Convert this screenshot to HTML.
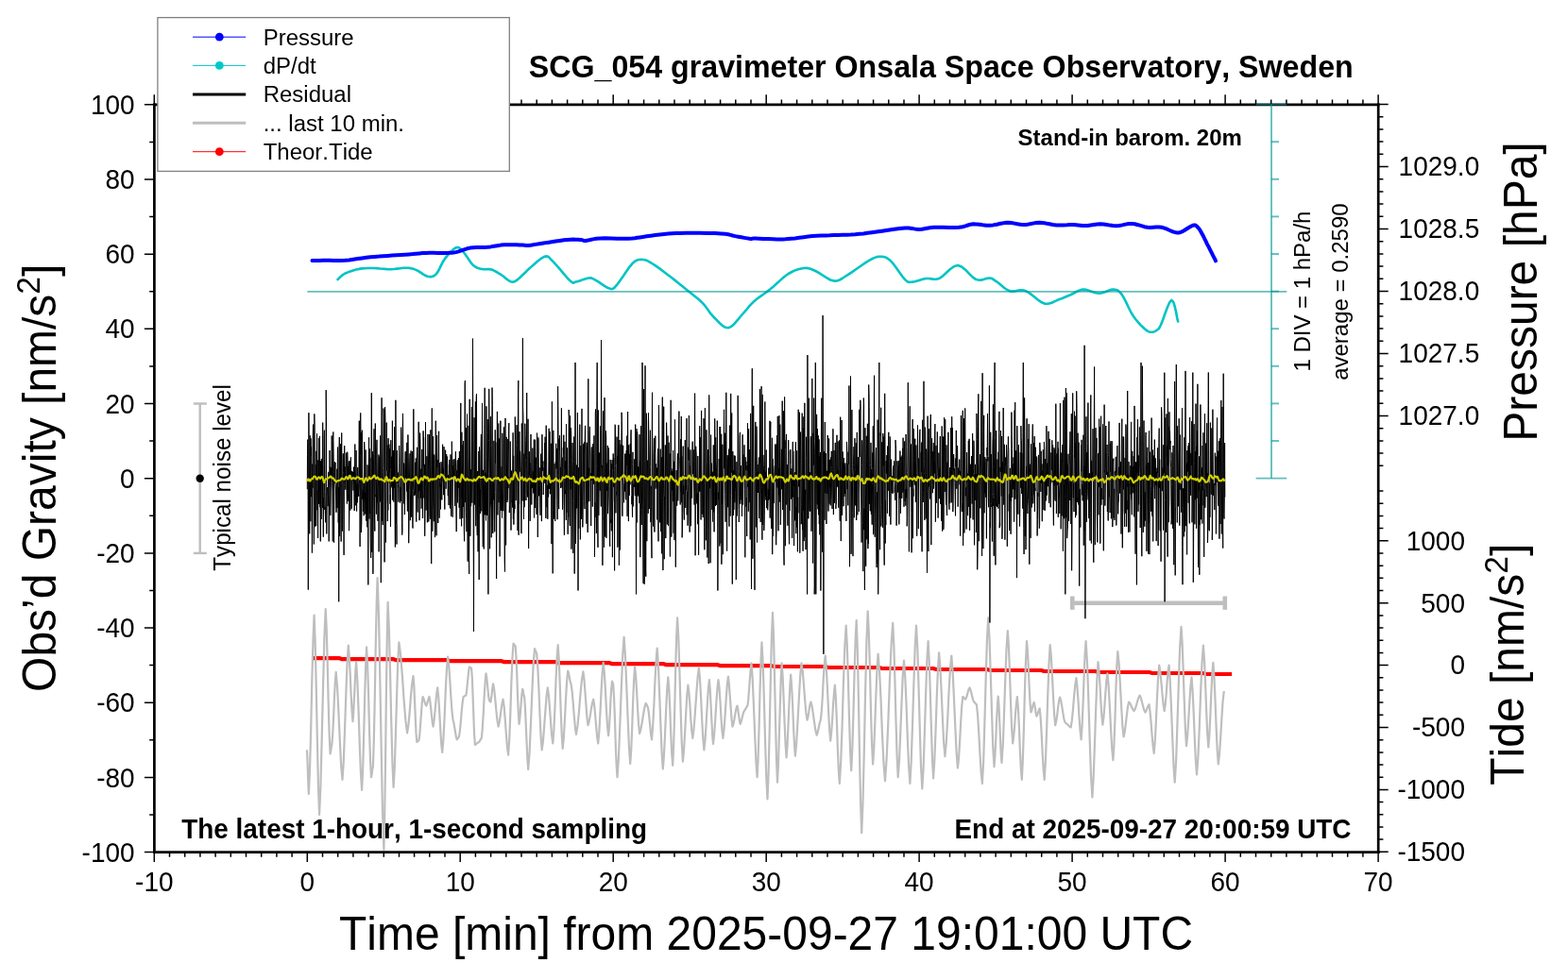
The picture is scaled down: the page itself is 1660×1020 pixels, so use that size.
<!DOCTYPE html><html><head><meta charset="utf-8"><title>SCG_054 gravimeter Onsala Space Observatory</title>
<style>html,body{margin:0;padding:0;background:#fff;}svg{display:block;}text{font-family:"Liberation Sans",Arial,Helvetica,sans-serif;font-kerning:none;}</style></head><body>
<svg width="1660" height="1020" viewBox="0 0 1660 1020">
<rect width="1660" height="1020" fill="#fff"/>
<text transform="translate(192.3,887.8) scale(1,1.035)" font-size="27.9" font-weight="bold">The latest 1-hour, 1-second sampling</text>
<text transform="translate(1010.5,887.8) scale(1,1.035)" font-size="27.9" font-weight="bold">End at 2025-09-27 20:00:59 UTC</text>
<g stroke="#bebebe" fill="none">
<line x1="1135.3" y1="638.8" x2="1296.8" y2="638.8" stroke-width="4.6"/>
<line x1="1135.3" y1="631.5" x2="1135.3" y2="645.8" stroke-width="4.6"/>
<line x1="1296.8" y1="631.5" x2="1296.8" y2="645.8" stroke-width="4.6"/>
</g>
<g stroke="#bebebe" stroke-width="2.4" fill="none"><line x1="211.7" y1="427.5" x2="211.7" y2="585.9"/><line x1="204.8" y1="427.5" x2="218.8" y2="427.5"/><line x1="204.8" y1="585.9" x2="218.8" y2="585.9"/></g>
<circle cx="211.7" cy="506.7" r="4.2" fill="#000"/>
<polyline points="331.8,697.1 358.9,697.1 361.9,698.1 416.1,698.1 419.1,699.1 473.3,699.1 476.3,700.1 530.5,700.1 533.5,701.1 587.7,701.1 590.7,702.1 644.9,702.1 647.9,703.1 702.1,703.1 705.1,704.1 759.3,704.1 762.3,705.1 816.5,705.1 819.5,706 873.6,706 876.6,707 930.8,707 933.8,708 988,708 991,709 1045.2,709 1048.2,710 1102.4,710 1105.4,711 1159.6,711 1162.6,712 1216.8,712 1219.8,713 1274,713 1277,714 1304.1,714" fill="none" stroke="#ff0000" stroke-width="4.2"/>
<polyline points="324.9,794.3 325.3,800.7 325.7,811.4 326.1,823.8 326.5,834.5 326.9,840.9 328,814.9 329.2,771.4 330.3,721.1 331.5,677.6 332.6,651.6 333.7,680.6 334.8,729.2 335.9,785.3 337,833.9 338.1,862.9 339.4,833 340.7,782.9 342.1,725.2 343.4,675.1 344.7,645.2 345.7,666.2 346.7,701.5 347.6,742.1 348.6,777.4 349.6,798.4 349.9,797.1 350.3,794.9 350.6,792.3 351,790.1 351.3,788.8 352.2,778.2 353.1,760.6 353.9,740.1 354.8,722.5 355.7,711.9 357.1,727.5 358.4,753.7 359.8,784 361.1,810.2 362.5,825.8 363.8,806.3 365,773.6 366.3,735.9 367.5,703.2 368.8,683.7 369.7,694.7 370.7,713.2 371.6,734.6 372.6,753.1 373.5,764.1 374.2,755.4 374.9,740.9 375.7,724.2 376.4,709.7 377.1,701 378.3,719.6 379.5,750.9 380.7,786.9 381.9,818.2 383.1,836.8 384.1,816 385.1,781.2 386.1,740.9 387.1,706.1 388.1,685.3 389.1,704.2 390.1,735.9 391,772.5 392,804.2 393,823.1 393.4,821.6 393.8,819.1 394.1,816.1 394.5,813.6 394.9,812.1 395.8,784.6 396.8,738.6 397.7,685.5 398.7,639.5 399.6,612 401,651.5 402.3,717.8 403.7,794.2 405,860.5 406.4,900 407.2,864 408.1,803.7 408.9,734.1 409.8,673.8 410.6,637.8 411.8,664.7 413,709.9 414.2,761.9 415.4,807.1 416.6,834 417.8,812.9 418.9,777.6 420.1,736.8 421.2,701.5 422.4,680.4 424.1,693.6 425.9,715.7 427.6,741.1 429.4,763.2 431.1,776.4 432.4,768.1 433.7,754.2 434.9,738.2 436.2,724.3 437.5,716 438.3,725.6 439,741.7 439.8,760.3 440.5,776.4 441.3,786 441.7,785.7 442.2,785.3 442.6,784.8 443.1,784.4 443.5,784.1 444.3,777.8 445.1,767.2 446,754.9 446.8,744.3 447.6,738 448.3,739.3 449,741.5 449.8,744.1 450.5,746.3 451.2,747.6 451.9,746.3 452.5,744.1 453.2,741.5 453.8,739.3 454.5,738 455.3,742.3 456.1,749.6 457,758 457.8,765.3 458.6,769.6 459.5,763.9 460.4,754.5 461.4,743.5 462.3,734.1 463.2,728.4 464.2,737.8 465.2,753.6 466.2,771.8 467.2,787.6 468.2,797 469.4,783.1 470.6,759.7 471.7,732.8 472.9,709.4 474.1,695.5 475.2,704.7 476.3,720.2 477.4,738 478.5,753.5 479.6,762.7 480.4,765.5 481.2,770.3 482.1,775.7 482.9,780.5 483.7,783.3 484.1,782.9 484.6,782.3 485,781.5 485.5,780.9 485.9,780.5 486.8,774.7 487.8,764.9 488.7,753.6 489.7,743.8 490.6,738 491.1,737.8 491.7,737.5 492.2,737.1 492.8,736.8 493.3,736.6 494,732.5 494.7,725.5 495.5,717.5 496.2,710.5 496.9,706.4 497.3,706.6 497.8,706.9 498.2,707.3 498.7,707.6 499.1,707.8 499.9,718.9 500.6,737.6 501.4,759 502.1,777.7 502.9,788.8 503.7,788.4 504.5,787.8 505.4,787 506.2,786.4 507,786 507.6,785.4 508.1,784.5 508.7,783.4 509.2,782.5 509.8,781.9 510.7,772.5 511.7,756.7 512.6,738.5 513.6,722.7 514.5,713.3 515.2,717.3 515.9,723.9 516.6,731.5 517.3,738.1 518,742.1 518.3,742.3 518.6,742.6 518.8,743 519.1,743.3 519.4,743.5 519.9,740.9 520.5,736.4 521,731.4 521.6,726.9 522.1,724.3 523.2,730.5 524.3,740.9 525.4,753 526.5,763.4 527.6,769.6 528.6,765.6 529.6,759 530.6,751.3 531.6,744.7 532.6,740.7 533.7,748.8 534.8,762.4 535.9,778 537,791.6 538.1,799.7 539.2,783.5 540.3,756.4 541.3,725 542.4,697.9 543.5,681.7 543.9,682.1 544.4,682.7 544.8,683.5 545.3,684.1 545.7,684.5 546.5,695.8 547.3,714.7 548,736.6 548.8,755.5 549.6,766.8 550.3,761.7 551,753.2 551.8,743.4 552.5,734.9 553.2,729.8 553.6,730.9 554,732.8 554.3,735 554.7,736.9 555.1,738 555.9,748.5 556.7,766.2 557.6,786.6 558.4,804.3 559.2,814.8 560.6,797.3 561.9,767.9 563.3,734.1 564.6,704.7 566,687.2 566.4,687.8 566.9,688.9 567.3,690.2 567.8,691.3 568.2,691.9 569.3,706 570.4,729.5 571.5,756.7 572.6,780.2 573.7,794.3 574.9,785.3 576.1,770.1 577.4,752.6 578.6,737.4 579.8,728.4 580.9,736.5 582,750.1 583.1,765.7 584.2,779.3 585.3,787.4 586.4,773.1 587.5,749.1 588.5,721.4 589.6,697.4 590.7,683.1 591.7,698.2 592.7,723.4 593.7,752.6 594.7,777.8 595.7,792.9 596.8,781.6 597.9,762.7 599,740.8 600.1,721.9 601.2,710.6 601.9,712.5 602.5,715.6 603.2,719.3 603.8,722.4 604.5,724.3 605.6,731.6 606.7,744 607.8,758.1 608.9,770.5 610,777.8 611.5,768.7 613,753.4 614.4,735.8 615.9,720.5 617.4,711.4 618.4,719.2 619.4,732.3 620.5,747.3 621.5,760.4 622.5,768.2 623.6,764.4 624.8,758.1 625.9,750.8 627.1,744.5 628.2,740.7 629.2,747.1 630.2,757.9 631.2,770.2 632.2,781 633.2,787.4 634.3,775.6 635.4,756 636.5,733.2 637.6,713.6 638.7,701.8 639.8,712.4 640.9,730.2 641.9,750.8 643,768.6 644.1,779.2 644.9,771.3 645.7,758 646.4,742.7 647.2,729.4 648,721.5 648.2,721.8 648.4,722.4 648.7,723.1 648.9,723.7 649.1,724 650,737.6 650.9,760.4 651.7,786.7 652.6,809.5 653.5,823.1 654.9,802.8 656.3,768.7 657.8,729.3 659.2,695.2 660.6,674.9 661.9,693.3 663.2,724.1 664.6,759.6 665.9,790.4 667.2,808.8 668.2,794.7 669.2,771.2 670.1,744 671.1,720.5 672.1,706.4 673.1,716.1 674.1,732.3 675.1,751.1 676.1,767.3 677.1,777 678.4,772.6 679.7,765.2 681.1,756.7 682.4,749.3 683.7,744.9 684.1,745.5 684.6,746.4 685,747.5 685.5,748.4 685.9,749 686.7,753.7 687.5,761.6 688.4,770.7 689.2,778.6 690,783.3 691.1,770 692.3,747.8 693.4,722.2 694.6,700 695.7,686.7 696.9,704.2 698.1,733.6 699.4,767.4 700.6,796.8 701.8,814.3 702.9,801 704,778.7 705.1,753 706.2,730.7 707.3,717.4 708.3,730.2 709.3,751.7 710.2,776.4 711.2,797.9 712.2,810.7 713.2,789.2 714.2,753.3 715.1,711.7 716.1,675.8 717.1,654.3 718.3,675.2 719.4,710.2 720.6,750.7 721.7,785.7 722.9,806.6 724,795.5 725.1,776.9 726.2,755.4 727.3,736.8 728.4,725.7 729.4,733.4 730.4,746.3 731.3,761.3 732.3,774.2 733.3,781.9 734.6,771.7 735.9,754.5 737.3,734.7 738.6,717.5 739.9,707.3 741,719.2 742.1,739.3 743.2,762.3 744.3,782.4 745.4,794.3 746.5,784.1 747.6,767.1 748.7,747.4 749.8,730.4 750.9,720.2 751.7,729.5 752.5,745.1 753.4,763.1 754.2,778.7 755,788 756.1,778.7 757.2,763.1 758.3,745.1 759.4,729.5 760.5,720.2 761.5,728.7 762.5,742.9 763.4,759.2 764.4,773.4 765.4,781.9 766.5,772.9 767.6,757.9 768.7,740.6 769.8,725.6 770.9,716.6 771.8,723.9 772.7,736.1 773.7,750.1 774.6,762.3 775.5,769.6 776.5,766.6 777.5,761.5 778.4,755.7 779.4,750.6 780.4,747.6 781.1,750.2 781.7,754.7 782.4,759.7 783,764.2 783.7,766.8 784.5,764.9 785.3,761.8 786.2,758.1 787,755 787.8,753.1 788.5,752.3 789.2,751.1 790,749.6 790.7,748.4 791.4,747.6 792.2,741.4 793,731 793.9,718.9 794.7,708.5 795.5,702.3 796.7,718.9 797.9,746.7 799.2,778.7 800.4,806.5 801.6,823.1 802.6,803.5 803.6,770.7 804.5,732.8 805.5,700 806.5,680.4 807.7,703.2 808.9,741.4 810.1,785.4 811.3,823.6 812.5,846.4 813.6,819.3 814.7,773.8 815.8,721.4 816.9,675.9 818,648.8 819,673.5 820,714.8 821,762.6 822,803.9 823,828.6 823.9,811.3 824.8,782.2 825.8,748.7 826.7,719.6 827.6,702.3 828.6,716.1 829.6,739.1 830.6,765.7 831.6,788.7 832.6,802.5 833.5,790.4 834.4,770.3 835.4,746.9 836.3,726.8 837.2,714.7 838.1,726.5 839.1,746.3 840,769 841,788.8 841.9,800.6 843.2,787.1 844.5,764.5 845.9,738.4 847.2,715.8 848.5,702.3 849.7,710.6 850.9,724.5 852.1,740.5 853.3,754.4 854.5,762.7 855.3,760.1 856.1,755.6 856.8,750.6 857.6,746.1 858.4,743.5 859.7,748.3 860.9,756.4 862.2,765.7 863.4,773.8 864.7,778.6 865.5,776.4 866.3,772.8 867.2,768.5 868,764.9 868.8,762.7 869.8,753.4 870.8,737.7 871.7,719.6 872.7,703.9 873.7,694.6 874.8,707 875.9,727.7 877,751.6 878.1,772.3 879.2,784.7 880.1,776.6 881.1,763 882,747.4 883,733.8 883.9,725.7 884.9,740 885.9,764 886.8,791.6 887.8,815.6 888.8,829.9 890.2,806.9 891.6,768.4 892.9,724 894.3,685.5 895.7,662.5 896.8,683.6 897.9,719 899,759.7 900.1,795.1 901.2,816.2 902.3,794.3 903.4,757.7 904.5,715.5 905.6,678.9 906.7,657 907.8,687.9 908.9,739.7 910,799.4 911.1,851.2 912.2,882.1 913.5,849.9 914.8,795.9 916.1,733.6 917.4,679.6 918.7,647.4 919.8,669.6 920.9,706.9 921.9,749.9 923,787.2 924.1,809.4 925.2,793.4 926.3,766.5 927.4,735.6 928.5,708.7 929.6,692.7 931.1,711.2 932.6,742.1 934,777.8 935.5,808.7 937,827.2 938.6,804.2 940.3,765.7 941.9,721.3 943.6,682.8 945.2,659.8 946.3,682.2 947.4,719.8 948.5,763.1 949.6,800.7 950.7,823.1 952,806.1 953.2,777.7 954.5,745 955.7,716.6 957,699.6 958.3,717.5 959.6,747.5 960.8,782 962.1,812 963.4,829.9 964.7,806.9 966,768.4 967.4,724 968.7,685.5 970,662.5 971.3,686.2 972.5,726 973.8,771.9 975,811.7 976.3,835.4 977.6,813.9 978.8,778 980.1,736.4 981.3,700.5 982.6,679 983.7,699 984.8,732.4 985.9,771 987,804.4 988.1,824.4 989.3,806.1 990.5,775.5 991.7,740.3 992.9,709.7 994.1,691.4 995.4,706.5 996.6,731.7 997.9,760.8 999.1,786 1000.4,801.1 1001.8,786.5 1003.2,762 1004.5,733.7 1005.9,709.2 1007.3,694.6 1008.6,710.9 1009.9,738.3 1011.3,769.8 1012.6,797.2 1013.9,813.5 1015,803.1 1016.1,785.8 1017.1,765.7 1018.2,748.4 1019.3,738 1019.9,738.4 1020.4,739 1021,739.7 1021.5,740.3 1022.1,740.7 1023,739 1023.9,736.2 1024.7,732.9 1025.6,730.1 1026.5,728.4 1027.4,730.5 1028.3,733.9 1029.3,738 1030.2,741.4 1031.1,743.5 1031.7,743.9 1032.2,744.5 1032.8,745.2 1033.3,745.8 1033.9,746.2 1035.1,757.7 1036.3,776.9 1037.5,799.2 1038.7,818.4 1039.9,829.9 1041.2,805.8 1042.4,765.4 1043.7,718.8 1044.9,678.4 1046.2,654.3 1047.5,676 1048.7,712.3 1050,754.1 1051.2,790.4 1052.5,812.1 1053.3,801.9 1054.2,784.7 1055,764.9 1055.9,747.7 1056.7,737.5 1057.5,747.2 1058.2,763.4 1059,782.1 1059.7,798.3 1060.5,808 1061.8,788.8 1063,756.6 1064.3,719.4 1065.5,687.2 1066.8,668 1067.9,684.4 1069,711.9 1070,743.5 1071.1,771 1072.2,787.4 1073.1,780.6 1074.1,769.3 1075,756.1 1076,744.8 1076.9,738 1077.9,750.1 1078.9,770.2 1079.8,793.6 1080.8,813.7 1081.8,825.8 1082.8,805.6 1083.9,771.9 1084.9,732.9 1086,699.2 1087,679 1087.9,689.4 1088.8,706.7 1089.6,726.8 1090.5,744.1 1091.4,754.5 1092.1,753.1 1092.7,750.6 1093.4,747.9 1094,745.4 1094.7,744 1095.2,746 1095.8,749.4 1096.3,753.2 1096.9,756.6 1097.4,758.6 1098.1,757.5 1098.7,755.6 1099.4,753.4 1100,751.5 1100.7,750.4 1101.7,760.8 1102.7,778.1 1103.7,798.1 1104.7,815.4 1105.7,825.8 1106.9,806.2 1108.1,773.4 1109.3,735.5 1110.5,702.7 1111.7,683.1 1112.8,694.8 1113.9,714.4 1115,736.9 1116.1,756.5 1117.2,768.2 1118.2,764.1 1119.2,757.3 1120.1,749.4 1121.1,742.6 1122.1,738.5 1123.2,742.2 1124.3,748.4 1125.4,755.5 1126.5,761.7 1127.6,765.4 1128.8,766.1 1130,767.2 1131.3,768.6 1132.5,769.7 1133.7,770.4 1134.8,763.2 1136,751.2 1137.1,737.4 1138.3,725.4 1139.4,718.2 1140.4,727.1 1141.5,742.1 1142.5,759.4 1143.6,774.4 1144.6,783.3 1145.6,769 1146.6,745 1147.6,717.3 1148.6,693.3 1149.6,679 1151,701.7 1152.3,739.8 1153.7,783.7 1155,821.8 1156.4,844.5 1157.6,824.8 1158.8,791.8 1160.1,753.7 1161.3,720.7 1162.5,701 1163.5,710.1 1164.5,725.5 1165.4,743.1 1166.4,758.5 1167.4,767.6 1168.4,760.1 1169.4,747.7 1170.4,733.2 1171.4,720.8 1172.4,713.3 1173.6,725.9 1174.8,747.1 1176,771.4 1177.2,792.6 1178.4,805.2 1179.4,789.4 1180.4,762.9 1181.3,732.3 1182.3,705.8 1183.3,690 1184.6,702.4 1185.8,723.2 1187.1,747.3 1188.3,768.1 1189.6,780.5 1190.7,775.4 1191.8,766.9 1192.9,757.1 1194,748.6 1195.1,743.5 1196.2,744.8 1197.3,747 1198.4,749.6 1199.5,751.8 1200.6,753.1 1201.8,750.8 1203,747 1204.2,742.7 1205.4,738.9 1206.6,736.6 1207.8,739.1 1208.9,743.2 1210.1,747.9 1211.2,752 1212.4,754.5 1213.2,753.4 1214,751.5 1214.9,749.2 1215.7,747.3 1216.5,746.2 1217.5,753.3 1218.6,765.2 1219.6,778.8 1220.7,790.7 1221.7,797.8 1222.8,785 1223.9,763.5 1225,738.8 1226.1,717.3 1227.2,704.5 1228.3,711.2 1229.4,722.4 1230.5,735.2 1231.6,746.4 1232.7,753.1 1233.7,746.4 1234.7,735.2 1235.6,722.4 1236.6,711.2 1237.6,704.5 1238.8,721.5 1240,750.1 1241.3,783 1242.5,811.6 1243.7,828.6 1245.1,806 1246.4,768.1 1247.8,724.4 1249.1,686.5 1250.5,663.9 1251.6,681.2 1252.7,710.3 1253.8,743.7 1254.9,772.8 1256,790.1 1257.1,780.1 1258.2,763.4 1259.3,744.1 1260.4,727.4 1261.5,717.4 1262.6,731.5 1263.7,755.2 1264.8,782.5 1265.9,806.2 1267,820.3 1268.4,801.5 1269.8,770.1 1271.1,733.9 1272.5,702.5 1273.9,683.7 1275,698.5 1276.1,723.3 1277.1,751.9 1278.2,776.7 1279.3,791.5 1280.3,779.2 1281.3,758.6 1282.3,734.7 1283.3,714.1 1284.3,701.8 1285.4,716.6 1286.5,741.3 1287.6,769.9 1288.7,794.6 1289.8,809.4 1291,798.8 1292.2,781 1293.4,760.4 1294.6,742.6 1295.8,732" fill="none" stroke="#bebebe" stroke-width="2.2" stroke-linejoin="round"/>
<polyline points="325.3,518.2 325.5,481.4 325.8,465.6 326.1,519.3 326.3,624.6 326.6,530.9 326.9,437.2 327.2,474.7 327.4,513.1 327.7,565.3 328,477.2 328.2,461.3 328.5,523.3 328.8,552.2 329,464.3 329.3,483 329.6,473.4 329.9,526.2 330.1,506.2 330.4,585.6 330.7,491.6 330.9,516.8 331.2,463.5 331.5,449.6 331.7,449.7 332,510.6 332.3,576.5 332.6,536.4 332.8,438.4 333.1,451 333.4,558.1 333.6,555.4 333.9,556.7 334.2,535 334.4,492.2 334.7,557.1 335,477.8 335.3,506.2 335.5,459.4 335.8,525.3 336.1,540.4 336.3,519.2 336.6,569.9 336.9,487.4 337.1,520.2 337.4,464.1 337.7,534 338,519 338.2,480.4 338.5,461.9 338.8,537.2 339,501.4 339.3,573.4 339.6,488.3 339.8,519.7 340.1,549.9 340.4,485.9 340.7,509 340.9,506.8 341.2,520.1 341.5,537.8 341.7,447.6 342,529.9 342.3,568.7 342.5,527.1 342.8,539.6 343.1,462.5 343.4,455.7 343.6,520.6 343.9,539.8 344.2,536.7 344.4,545.3 344.7,553.3 345,491.2 345.2,413.2 345.5,440.8 345.8,565.4 346.1,525.6 346.3,517.7 346.6,516.8 346.9,516 347.1,536.1 347.4,531.9 347.7,509.1 347.9,499.8 348.2,573.4 348.5,539.2 348.8,524.9 349,477.1 349.3,515.4 349.6,494.4 349.8,545.9 350.1,525.1 350.4,501.4 350.6,495.5 350.9,505.3 351.2,461.5 351.5,497 351.7,511.5 352,520.8 352.3,573.4 352.5,466.4 352.8,457.5 353.1,478.9 353.3,499.2 353.6,574.6 353.9,504.2 354.2,489 354.4,511.6 354.7,496 355,490.1 355.2,513 355.5,518.1 355.8,539.7 356,542.7 356.3,539.7 356.6,526.8 356.9,496.7 357.1,537.8 357.4,474.5 357.7,473.5 357.9,505.5 358.2,553.6 358.5,516.2 358.7,637.3 359,481.7 359.3,463 359.6,568 359.8,518.1 360.1,510.4 360.4,470 360.6,512.8 360.9,555.4 361.2,573.6 361.4,497 361.7,458.5 362,501.8 362.3,561.1 362.5,562.5 362.8,511.5 363.1,484.1 363.3,480.3 363.6,500.7 363.9,550.1 364.1,587.9 364.4,513.5 364.7,472.1 365,506.4 365.2,494.4 365.5,511.6 365.8,518.7 366,517.5 366.3,479.7 366.6,481.1 366.8,490.6 367.1,521.2 367.4,533.5 367.7,478.7 367.9,482.3 368.2,495.9 368.5,530.5 368.7,493.8 369,504.1 369.3,488.5 369.5,562.2 369.8,547.9 370.1,506.2 370.4,488.1 370.6,495.9 370.9,540.5 371.2,494.8 371.4,484.4 371.7,507.9 372,506 372.2,538.9 372.5,499.1 372.8,498.9 373.1,506.6 373.3,508.3 373.6,499.9 373.9,514.3 374.1,519.6 374.4,494.6 374.7,512.8 374.9,523.4 375.2,541 375.5,497.9 375.8,470.5 376,507 376.3,535.3 376.6,503.8 376.8,498.1 377.1,477.1 377.4,513.6 377.6,541.5 377.9,512.5 378.2,532.4 378.5,527.7 378.7,495 379,511.8 379.3,511.7 379.5,523 379.8,525.9 380.1,470.1 380.3,445.7 380.6,512.2 380.9,521.2 381.1,578.9 381.4,525.9 381.7,437.4 382,481.2 382.2,458.2 382.5,563.9 382.8,553.3 383,525.8 383.3,455.7 383.6,491.4 383.8,528.7 384.1,519.2 384.4,541.6 384.7,524 384.9,509.1 385.2,546.2 385.5,520.7 385.7,468.1 386,478.5 386.3,528.6 386.5,521.8 386.8,544.5 387.1,476.5 387.4,512.8 387.6,551.5 387.9,524.5 388.2,510.9 388.4,525.8 388.7,558.3 389,492.4 389.2,494.4 389.5,516.2 389.8,619.4 390.1,493.1 390.3,492.8 390.6,463.3 390.9,544.3 391.1,549.5 391.4,475.5 391.7,544.1 391.9,484.9 392.2,570.3 392.5,590.4 392.8,591 393,480.8 393.3,416.2 393.6,460.9 393.8,584.9 394.1,571.2 394.4,478.3 394.6,481.9 394.9,607.9 395.2,539.6 395.5,492.1 395.7,480.3 396,454.3 396.3,504.2 396.5,548.7 396.8,562.5 397.1,465.5 397.3,448.5 397.6,494.9 397.9,526.3 398.2,523.7 398.4,544.6 398.7,476 399,465.8 399.2,485.3 399.5,532.2 399.8,534 400,551.8 400.3,515.1 400.6,509 400.9,481.5 401.1,584.4 401.4,490.9 401.7,489.2 401.9,483.6 402.2,522.3 402.5,531.4 402.7,461.4 403,503.8 403.3,617.2 403.6,565.2 403.8,481 404.1,421.3 404.4,500.2 404.6,551.8 404.9,515.1 405.2,556 405.4,531.3 405.7,495.7 406,432.5 406.3,438.7 406.5,443.2 406.8,506.4 407.1,595.4 407.3,540.5 407.6,431.2 407.9,444.7 408.1,518.2 408.4,574.5 408.7,534.5 409,527.8 409.2,447.6 409.5,498.6 409.8,483.6 410,471.6 410.3,552.1 410.6,499.6 410.8,540.4 411.1,464.2 411.4,504.4 411.7,510.6 411.9,470.6 412.2,500.2 412.5,475.3 412.7,513.8 413,533.7 413.3,524.2 413.5,557.8 413.8,466.2 414.1,495.9 414.4,483.7 414.6,515.3 414.9,516.4 415.2,514.6 415.4,445.7 415.7,529.6 416,497 416.2,519.2 416.5,477.1 416.8,531.5 417.1,492 417.3,516.7 417.6,452.3 417.9,495.1 418.1,547 418.4,579.5 418.7,493.1 418.9,423.8 419.2,472.1 419.5,555.1 419.8,555.3 420,576.5 420.3,477.2 420.6,503.5 420.8,511.9 421.1,500.5 421.4,512.5 421.6,517.3 421.9,531.7 422.2,512.1 422.5,490.2 422.7,472 423,485.2 423.3,526.4 423.5,532.5 423.8,515.7 424.1,530.9 424.3,515.7 424.6,452.7 424.9,462.8 425.2,522.7 425.4,553.7 425.7,566.6 426,562.4 426.2,454.6 426.5,437.9 426.8,484.8 427,515.7 427.3,533.4 427.6,490.6 427.9,493.1 428.1,500.8 428.4,545.1 428.7,525 428.9,489.4 429.2,478.3 429.5,506.3 429.7,496.9 430,492.9 430.3,478.3 430.6,520.4 430.8,468.8 431.1,523.2 431.4,541.5 431.6,512.4 431.9,460.5 432.2,479.8 432.4,491 432.7,575.2 433,553.8 433.2,518.3 433.5,506.6 433.8,484.6 434.1,480.2 434.3,551.2 434.6,525.1 434.9,522.2 435.1,477.4 435.4,518 435.7,547.7 435.9,521.1 436.2,504 436.5,478.1 436.8,555.2 437,559.5 437.3,519.4 437.6,509.6 437.8,433.4 438.1,501.5 438.4,520.8 438.6,525.1 438.9,520.9 439.2,524.4 439.5,506.3 439.7,489.8 440,521.8 440.3,485.3 440.5,547.5 440.8,552.6 441.1,521 441.3,485.7 441.6,473.8 441.9,497.9 442.2,542.5 442.4,511.3 442.7,527.8 443,479.5 443.2,446.8 443.5,520.3 443.8,511.8 444,551.2 444.3,535.6 444.6,458.6 444.9,467.8 445.1,518.9 445.4,511.7 445.7,527.6 445.9,496.7 446.2,538.7 446.5,505.1 446.7,476.1 447,476.1 447.3,518.5 447.6,548.8 447.8,522.5 448.1,456.4 448.4,493.7 448.6,463.3 448.9,527.4 449.2,521.1 449.4,491.9 449.7,567.8 450,544.6 450.3,515.7 450.5,447 450.8,505.7 451.1,540.5 451.3,526.9 451.6,527.1 451.9,483.2 452.1,512.6 452.4,553.3 452.7,509.5 453,459.9 453.2,476.2 453.5,486.8 453.8,552.5 454,534.1 454.3,493.9 454.6,460.2 454.8,484.9 455.1,544.9 455.4,549.7 455.7,467.2 455.9,455.3 456.2,492.8 456.5,566.3 456.7,597.1 457,502.1 457.3,432.4 457.5,474.2 457.8,562.7 458.1,540.5 458.4,532.2 458.6,462.1 458.9,523.2 459.2,552.2 459.4,492.9 459.7,481.5 460,484.1 460.2,544.3 460.5,569.1 460.8,515 461.1,485.1 461.3,445.7 461.6,499 461.9,561.4 462.1,567.3 462.4,481.5 462.7,461.1 462.9,494.9 463.2,487 463.5,543 463.8,554 464,500.5 464.3,478.6 464.6,456.8 464.8,509.6 465.1,548.7 465.4,496 465.6,490.2 465.9,515.5 466.2,512.7 466.5,539.4 466.7,505.3 467,489.1 467.3,490.3 467.5,519.8 467.8,529.4 468.1,509.1 468.3,509.5 468.6,470.7 468.9,503.3 469.2,495.8 469.4,516 469.7,524.2 470,473.1 470.2,516.3 470.5,516 470.8,539.5 471,503.6 471.3,510 471.6,476.7 471.9,493.9 472.1,517.7 472.4,487.3 472.7,481.1 472.9,508.1 473.2,505 473.5,483.6 473.7,496.9 474,505.5 474.3,525.1 474.6,503.3 474.8,522.8 475.1,535.1 475.4,492.1 475.6,499.5 475.9,487 476.2,497.4 476.4,538.4 476.7,524.9 477,481.4 477.3,490.9 477.5,546.6 477.8,532.8 478.1,505.2 478.3,467.6 478.6,482.6 478.9,515.5 479.1,547.7 479.4,493.4 479.7,505.2 480,486.8 480.2,504.4 480.5,503.9 480.8,495.6 481,486.2 481.3,494.3 481.6,535.9 481.8,529.5 482.1,489.5 482.4,478.2 482.7,499.1 482.9,535 483.2,563.1 483.5,498.6 483.7,509 484,495.3 484.3,487.3 484.5,532.4 484.8,510.8 485.1,517 485.4,485.1 485.6,510.9 485.9,503.7 486.2,537.8 486.4,478 486.7,515.5 487,549.6 487.2,539.1 487.5,481.3 487.8,426.9 488,532.2 488.3,542.1 488.6,557.3 488.9,457.7 489.1,527.8 489.4,495 489.7,548.9 489.9,471 490.2,497.9 490.5,467.1 490.7,537 491,506.5 491.3,561.5 491.6,573.3 491.8,543.3 492.1,405.8 492.4,403.1 492.6,532.1 492.9,502.5 493.2,453 493.4,542.6 493.7,549.7 494,563.1 494.3,460 494.5,438.5 494.8,525.6 495.1,593.3 495.3,594.7 495.6,510.1 495.9,483.2 496.1,450.9 496.4,591.4 496.7,607.9 497,457.3 497.2,422.8 497.5,471.8 497.8,567.8 498,538.7 498.3,497.3 498.6,536.1 498.8,522.1 499.1,475.2 499.4,431.1 499.7,522.3 499.9,532.6 500.2,508 500.5,358.6 500.7,432.8 501,499.8 501.3,596.7 501.5,669 501.8,506.4 502.1,442.3 502.4,534.5 502.6,524.8 502.9,486.3 503.2,456.4 503.4,425.4 503.7,557.2 504,531.2 504.2,420.5 504.5,417.1 504.8,544.8 505.1,562.3 505.3,567.1 505.6,499 505.9,529.5 506.1,584.3 506.4,512 506.7,518.6 506.9,478 507.2,614 507.5,473.5 507.8,478 508,536.6 508.3,518.4 508.6,544.1 508.8,502.6 509.1,475.4 509.4,459.9 509.6,509.8 509.9,541.4 510.2,526.9 510.5,426.9 510.7,473.7 511,549.5 511.3,579.2 511.5,497.9 511.8,524 512.1,514.3 512.3,581.5 512.6,518.2 512.9,454.3 513.2,410.8 513.4,512.7 513.7,545.3 514,500.5 514.2,535.4 514.5,551.4 514.8,484.4 515,430.3 515.3,501.6 515.6,545.8 515.9,508.8 516.1,444.1 516.4,458.7 516.7,566.2 516.9,629.4 517.2,501.4 517.5,466.6 517.7,411.9 518,453.1 518.3,498.6 518.6,581.3 518.8,500.3 519.1,449.8 519.4,441.1 519.6,534.1 519.9,538.1 520.2,569.3 520.4,562.9 520.7,471.3 521,410.6 521.3,429.4 521.5,552.2 521.8,564.9 522.1,546.1 522.3,511.1 522.6,529.3 522.9,466.9 523.1,499 523.4,521.3 523.7,563.3 524,521.4 524.2,455.3 524.5,490.7 524.8,468.5 525,507.9 525.3,541.1 525.6,613 525.8,551.9 526.1,492 526.4,435.9 526.7,500.1 526.9,545.4 527.2,513.9 527.5,510.7 527.7,448.5 528,532.2 528.3,480.9 528.5,476.8 528.8,464.4 529.1,589.4 529.4,523.9 529.6,473.9 529.9,445.7 530.2,540.7 530.4,540.9 530.7,513.1 531,500.1 531.2,494.1 531.5,548.6 531.8,458.8 532.1,469.4 532.3,517.9 532.6,537 532.9,541.2 533.1,521.5 533.4,452.4 533.7,478 533.9,519.3 534.2,594.7 534.5,605.5 534.8,454.8 535,442.9 535.3,508.1 535.6,577.4 535.8,535.8 536.1,462.8 536.4,488.8 536.6,503 536.9,532 537.2,465 537.5,529.6 537.7,504 538,517.1 538.3,481.2 538.5,459.9 538.8,448.1 539.1,499 539.3,543.1 539.6,535.8 539.9,534.4 540.2,467.5 540.4,485.2 540.7,509.7 541,561.6 541.2,506 541.5,498.6 541.8,507.5 542,531.7 542.3,530.1 542.6,537.5 542.8,486.6 543.1,458.3 543.4,549.7 543.7,482.8 543.9,555.6 544.2,503.4 544.5,543.3 544.7,534.3 545,538.9 545.3,441.5 545.5,465.7 545.8,468.1 546.1,530.1 546.4,497.8 546.6,507.3 546.9,450.6 547.2,450.1 547.4,471.6 547.7,506.7 548,561.9 548.2,549.1 548.5,416.7 548.8,403.1 549.1,566.7 549.3,528.4 549.6,533.6 549.9,457.2 550.1,499.7 550.4,479.8 550.7,477.8 550.9,481 551.2,493.2 551.5,505.7 551.8,564.3 552,565.1 552.3,448.5 552.6,466.4 552.8,492.8 553.1,530.5 553.4,358.2 553.6,430.4 553.9,439.4 554.2,496.3 554.5,549.9 554.7,480.7 555,506.5 555.3,537.1 555.5,523.3 555.8,448.7 556.1,460.5 556.3,466.4 556.6,487.3 556.9,530 557.2,524.2 557.4,482.7 557.7,416 558,496.1 558.2,518.4 558.5,526.4 558.8,508.4 559,443.8 559.3,487.9 559.6,581 559.9,533.7 560.1,478.5 560.4,478.2 560.7,503.7 560.9,490 561.2,551.8 561.5,512.7 561.7,501.6 562,460 562.3,489.8 562.6,517.1 562.8,534.5 563.1,509.3 563.4,515.7 563.6,517.1 563.9,474.6 564.2,514.4 564.4,499.1 564.7,522.4 565,521.8 565.3,465.6 565.5,548.4 565.8,481 566.1,528 566.3,497.6 566.6,465.7 566.9,538 567.1,510.9 567.4,484.7 567.7,534.7 568,544.9 568.2,492.4 568.5,458.6 568.8,467.3 569,494 569.3,568.9 569.6,531.5 569.8,463.4 570.1,465.5 570.4,525.3 570.7,516.4 570.9,495.3 571.2,495.4 571.5,514.6 571.7,538.4 572,545.8 572.3,520.7 572.5,480.7 572.8,495.1 573.1,521.9 573.4,552.1 573.6,491.6 573.9,460.2 574.2,478.1 574.4,498.9 574.7,493.2 575,488.5 575.2,524 575.5,511.2 575.8,507.4 576.1,495.1 576.3,508.5 576.6,469.2 576.9,511.8 577.1,462.7 577.4,497.4 577.7,508.2 577.9,548.9 578.2,450.7 578.5,467.7 578.8,510.1 579,537.1 579.3,513.9 579.6,527.6 579.8,549.7 580.1,503.3 580.4,508.6 580.6,526.5 580.9,488.4 581.2,453.8 581.5,503 581.7,517.8 582,457.1 582.3,523.3 582.5,517.7 582.8,508.8 583.1,480.2 583.3,469.8 583.6,523.2 583.9,576.1 584.2,507 584.4,425.4 584.7,475.1 585,566.5 585.2,607.4 585.5,540.2 585.8,455.9 586,509.7 586.3,528.8 586.6,549.5 586.9,517.1 587.1,491.2 587.4,530.9 587.7,552 587.9,529.8 588.2,489.4 588.5,491.1 588.7,469.8 589,496.3 589.3,494.8 589.6,475.3 589.8,529.2 590.1,550.2 590.4,503.2 590.6,409.3 590.9,440.6 591.2,488.3 591.4,534.6 591.7,539.1 592,464.6 592.3,476.8 592.5,461.2 592.8,490.4 593.1,507.2 593.3,494.9 593.6,517 593.9,493.2 594.1,486.5 594.4,432.3 594.7,495.4 595,516.5 595.2,484.7 595.5,539.6 595.8,527.7 596,515 596.3,474.3 596.6,481 596.8,460.7 597.1,540.2 597.4,566.7 597.6,509.5 597.9,467.8 598.2,496.2 598.5,488 598.7,523.2 599,519.3 599.3,550.9 599.5,449 599.8,542.9 600.1,507.9 600.3,504 600.6,474.4 600.9,505 601.2,565.8 601.4,504.8 601.7,547.7 602,491.6 602.2,434 602.5,442.4 602.8,497.2 603,551.7 603.3,557 603.6,440.4 603.9,518.4 604.1,487 604.4,453 604.7,459 604.9,581.6 605.2,560.9 605.5,503.6 605.7,486.7 606,469 606.3,488.5 606.6,530.6 606.8,585.9 607.1,510.4 607.4,508.4 607.6,462.5 607.9,493.2 608.2,607.6 608.4,580 608.7,484.8 609,384 609.3,465.1 609.5,576 609.8,551.4 610.1,530.2 610.3,492.5 610.6,538.4 610.9,537.8 611.1,508.4 611.4,437.1 611.7,470.9 612,625.5 612.2,566.8 612.5,495.2 612.8,559.8 613,526.6 613.3,507.8 613.6,465.3 613.8,449.6 614.1,501.6 614.4,571.4 614.7,512.6 614.9,472 615.2,491.2 615.5,549.7 615.7,497.3 616,432.9 616.3,509.9 616.5,530.7 616.8,558.4 617.1,548.8 617.4,508.1 617.6,470.4 617.9,471.4 618.2,479.8 618.4,468.4 618.7,536.3 619,539 619.2,464 619.5,450.9 619.8,461 620.1,508.2 620.3,505.1 620.6,528.2 620.9,554.7 621.1,468.8 621.4,532.9 621.7,472.7 621.9,529.8 622.2,563.9 622.5,455.6 622.8,401.3 623,494.3 623.3,531.2 623.6,495.6 623.8,506.3 624.1,458.8 624.4,451.9 624.6,474.1 624.9,503.7 625.2,531.2 625.5,501.4 625.7,557 626,480.5 626.3,473.5 626.5,508.6 626.8,507.8 627.1,501.4 627.3,536.6 627.6,475.1 627.9,470 628.2,507.4 628.4,512.8 628.7,468.8 629,461.4 629.2,480.8 629.5,589.9 629.8,532 630,547.7 630.3,437.4 630.6,433.5 630.9,444.7 631.1,544.2 631.4,564.9 631.7,527.8 631.9,424.4 632.2,384 632.5,493.7 632.7,552 633,579.8 633.3,434.4 633.6,500.6 633.8,545.9 634.1,523.4 634.4,479.5 634.6,501.3 634.9,508.4 635.2,519.8 635.4,451.5 635.7,454.8 636,518.5 636.3,536.5 636.5,360.2 636.8,435.8 637.1,494.9 637.3,492.9 637.6,496 637.9,598.8 638.1,546.6 638.4,455.2 638.7,435.3 639,550.1 639.2,549.6 639.5,579.7 639.8,465.9 640,421.2 640.3,469.5 640.6,547 640.8,568.5 641.1,531.7 641.4,456.4 641.7,463.3 641.9,569.8 642.2,490.6 642.5,500.4 642.7,519.8 643,478.4 643.3,471.9 643.5,544.1 643.8,534.9 644.1,522.5 644.4,474.4 644.6,488.5 644.9,515.8 645.2,537.1 645.4,568.3 645.7,578.7 646,505.7 646.2,486.9 646.5,496.5 646.8,553.9 647.1,550 647.3,562.3 647.6,491.4 647.9,497 648.1,487.1 648.4,590.2 648.7,532.5 648.9,529.6 649.2,480.5 649.5,515.6 649.7,485 650,514 650.3,508 650.6,604.4 650.8,498.6 651.1,449.7 651.4,450.5 651.6,493.5 651.9,543.4 652.2,526 652.4,524 652.7,519.2 653,462.6 653.3,491 653.5,483.4 653.8,579.7 654.1,577.8 654.3,526.8 654.6,461.4 654.9,450.2 655.1,483.8 655.4,598.7 655.7,479.5 656,466 656.2,498.9 656.5,582.5 656.8,528.1 657,470.7 657.3,497.9 657.6,507.1 657.8,494.2 658.1,436.8 658.4,445.4 658.7,505.9 658.9,546.7 659.2,487.1 659.5,477.5 659.7,471.8 660,507.5 660.3,514.6 660.5,532.3 660.8,517.9 661.1,512.7 661.4,520.5 661.6,480.8 661.9,512.2 662.2,480.6 662.4,527.7 662.7,529.3 663,498.1 663.2,477.2 663.5,492.8 663.8,461.6 664.1,546.9 664.3,489.1 664.6,436.1 664.9,502.3 665.1,516.7 665.4,552.1 665.7,471.3 665.9,492.3 666.2,524.9 666.5,480.9 666.8,497.1 667,513.3 667.3,469.9 667.6,510.1 667.8,462.1 668.1,455.3 668.4,483.9 668.6,485.6 668.9,534.2 669.2,525.3 669.5,547.7 669.7,491.4 670,478.8 670.3,536.4 670.5,531.8 670.8,512.7 671.1,516 671.3,505.5 671.6,486.5 671.9,515.4 672.2,512.5 672.4,525.1 672.7,449.6 673,504.5 673.2,519.3 673.5,629.4 673.8,460.1 674,454.2 674.3,553.4 674.6,457.4 674.9,464.1 675.1,500.6 675.4,523.7 675.7,494 675.9,525.6 676.2,494.8 676.5,517.7 676.7,533.1 677,460.2 677.3,494 677.6,488 677.8,590.1 678.1,555.8 678.4,539.5 678.6,451.2 678.9,548.2 679.2,556 679.4,540.5 679.7,505 680,384 680.3,409.6 680.5,503.1 680.8,581.1 681.1,617.8 681.3,469.2 681.6,412.2 681.9,488.8 682.1,618.8 682.4,610.2 682.7,488.7 683,387.3 683.2,461.9 683.5,604.1 683.8,610.6 684,494.2 684.3,437.7 684.6,446.7 684.8,573.2 685.1,518.9 685.4,489.3 685.7,487.6 685.9,512.4 686.2,543.8 686.5,437.4 686.7,449.8 687,471.4 687.3,539.1 687.5,514 687.8,489.2 688.1,473.5 688.4,455.7 688.6,494.6 688.9,553.1 689.2,514.7 689.4,560.8 689.7,572 690,591.2 690.2,479.1 690.5,415.7 690.8,503.6 691.1,536.7 691.3,550.4 691.6,557.5 691.9,484.6 692.1,476.7 692.4,464.2 692.7,503.9 692.9,563.5 693.2,466.4 693.5,478.6 693.8,461.7 694,517.6 694.3,498.8 694.6,491.3 694.8,510.6 695.1,497.1 695.4,495.6 695.6,550.4 695.9,525.1 696.2,492.2 696.5,475.3 696.7,524.1 697,573.4 697.3,460.4 697.5,429.1 697.8,475.5 698.1,505.4 698.3,553.3 698.6,511.2 698.9,501.8 699.2,475.6 699.4,529 699.7,563.1 700,512.6 700.2,484.2 700.5,586.3 700.8,542.3 701,455.6 701.3,420.6 701.6,531.8 701.9,604 702.1,527.2 702.4,517.3 702.7,430.7 702.9,518.1 703.2,592.2 703.5,526 703.7,528.3 704,496.3 704.3,471.4 704.5,504.6 704.8,570.1 705.1,513.4 705.4,494.6 705.6,447.6 705.9,466.1 706.2,555.5 706.4,536.2 706.7,485.8 707,461.5 707.2,512.4 707.5,557.1 707.8,500.8 708.1,468.7 708.3,480.6 708.6,505.3 708.9,480.4 709.1,557.4 709.4,589.5 709.7,536.4 709.9,493.5 710.2,423.8 710.5,479.3 710.8,568.7 711,561.7 711.3,499 711.6,506.6 711.8,519.2 712.1,496.4 712.4,531.1 712.6,477 712.9,510.5 713.2,564.7 713.5,499.5 713.7,488.8 714,572.1 714.3,506.4 714.5,444.4 714.8,527.9 715.1,533.8 715.3,600.6 715.6,545.2 715.9,522.9 716.2,498.1 716.4,528.1 716.7,535.6 717,511.7 717.2,483.7 717.5,480.4 717.8,530.4 718,519.3 718.3,493 718.6,451.9 718.9,435.6 719.1,485 719.4,486.2 719.7,487.5 719.9,497.2 720.2,534.5 720.5,465.3 720.7,504.7 721,521.1 721.3,441 721.6,532.1 721.8,483.3 722.1,569.4 722.4,564 722.6,543.5 722.9,487.5 723.2,472.6 723.4,523.4 723.7,514.5 724,543 724.3,550.6 724.5,545.3 724.8,503.9 725.1,502.5 725.3,466.1 725.6,534.9 725.9,537.9 726.1,505.7 726.4,504.3 726.7,519.3 727,443.1 727.2,545.3 727.5,520.6 727.8,533.9 728,556.7 728.3,544.1 728.6,512.9 728.8,473.8 729.1,487.3 729.4,440 729.7,489.5 729.9,553 730.2,563.6 730.5,493 730.7,501.5 731,476.4 731.3,514.8 731.5,557.2 731.8,513.3 732.1,508.1 732.4,520.8 732.6,527.5 732.9,481.1 733.2,467.7 733.4,495.4 733.7,502.2 734,499.1 734.2,476.4 734.5,506.7 734.8,521 735.1,534.6 735.3,479.4 735.6,416.6 735.9,508.5 736.1,588.3 736.4,520.8 736.7,472.8 736.9,477.7 737.2,481.4 737.5,530.8 737.8,533.1 738,533.6 738.3,522.5 738.6,555.2 738.8,483 739.1,511.7 739.4,514.7 739.6,587.8 739.9,511.4 740.2,505.8 740.5,519.9 740.7,451.2 741,520.9 741.3,492.2 741.5,463.1 741.8,501.2 742.1,550.5 742.3,478.7 742.6,434.9 742.9,485.9 743.2,544.7 743.4,506.7 743.7,514.4 744,505.9 744.2,548.1 744.5,538.6 744.8,500.1 745,443.2 745.3,478.4 745.6,558.4 745.9,582.3 746.1,472.4 746.4,432.2 746.7,468 746.9,511.4 747.2,572.3 747.5,544 747.7,504.2 748,455.3 748.3,489.2 748.6,524 748.8,590.5 749.1,493.1 749.4,488.5 749.6,476.1 749.9,561.7 750.2,597 750.4,566.1 750.7,418.4 751,480.4 751.3,517.2 751.5,503.8 751.8,507 752.1,596.3 752.3,518.6 752.6,460.6 752.9,499.5 753.1,505.4 753.4,490.7 753.7,509.9 754,539.9 754.2,499.7 754.5,552.5 754.8,503.4 755,537 755.3,471.4 755.6,542.3 755.8,521.3 756.1,563.3 756.4,520.9 756.7,443.4 756.9,462.4 757.2,504.4 757.5,536 757.7,463.3 758,485.9 758.3,500 758.5,534.9 758.8,494.5 759.1,489.7 759.3,445.6 759.6,487.7 759.9,625.5 760.2,545.6 760.4,521.6 760.7,529 761,500.4 761.2,486.1 761.5,496.4 761.8,578.5 762,452.1 762.3,506.3 762.6,452 762.9,474 763.1,575.5 763.4,490.5 763.7,459.8 763.9,597.7 764.2,524.4 764.5,533.8 764.7,470.9 765,470.8 765.3,587.2 765.6,540.4 765.8,529 766.1,496 766.4,447.8 766.6,433.8 766.9,496.2 767.2,458.7 767.4,463.3 767.7,523.5 768,552.8 768.3,512.9 768.5,466.3 768.8,415.8 769.1,482.6 769.3,484.9 769.6,583.6 769.9,495.9 770.1,482 770.4,485.1 770.7,537.2 771,502.1 771.2,495.2 771.5,475.7 771.8,553.3 772,557.6 772.3,483.3 772.6,450.6 772.8,516.3 773.1,546.6 773.4,524.2 773.7,416.9 773.9,497 774.2,500.8 774.5,464.6 774.7,437.5 775,525.6 775.3,618.6 775.5,505.2 775.8,478.1 776.1,511 776.4,546 776.6,498.3 776.9,539.9 777.2,482.4 777.4,510.4 777.7,532.4 778,531.2 778.2,482.8 778.5,517.5 778.8,521.4 779.1,558.4 779.3,614 779.6,504.4 779.9,489.1 780.1,497.2 780.4,546.4 780.7,534.4 780.9,526.3 781.2,418.9 781.5,467 781.8,498.4 782,518 782.3,553 782.6,539.6 782.8,499.3 783.1,461.9 783.4,457.8 783.6,525.3 783.9,533.7 784.2,493 784.5,529.3 784.7,517.9 785,511.8 785.3,529 785.5,546.8 785.8,503 786.1,460.3 786.3,516.4 786.6,534.6 786.9,507.9 787.2,481.4 787.4,507.8 787.7,499.5 788,471.3 788.2,501.3 788.5,518.7 788.8,590.3 789,484.2 789.3,489.6 789.6,497.9 789.9,488.9 790.1,536.6 790.4,527.1 790.7,568 790.9,493.2 791.2,498.5 791.5,448.2 791.7,515.6 792,512.6 792.3,541.7 792.6,454.2 792.8,487.5 793.1,532.2 793.4,510.1 793.6,476.1 793.9,499.7 794.2,571.4 794.4,543.9 794.7,437.9 795,503.8 795.3,545.6 795.5,623.8 795.8,555.3 796.1,442.8 796.3,390.3 796.6,581.3 796.9,591.8 797.1,510.7 797.4,473 797.7,429.8 798,490 798.2,522 798.5,586.2 798.8,591.9 799,624.9 799.3,499.9 799.6,477 799.8,446.9 800.1,516.1 800.4,558.3 800.7,499.8 800.9,451.6 801.2,458.8 801.5,574.5 801.7,502.1 802,492 802.3,522 802.5,500.6 802.8,504 803.1,494.4 803.4,484.5 803.6,549 803.9,539.3 804.2,518.3 804.4,412.2 804.7,490.3 805,484 805.2,552.9 805.5,507.1 805.8,432.2 806.1,409.2 806.3,516.3 806.6,524.8 806.9,571.7 807.1,417.9 807.4,555.9 807.7,521.1 807.9,481.9 808.2,492.8 808.5,496.4 808.8,561.9 809,557.7 809.3,546.7 809.6,496.1 809.8,425.5 810.1,503.6 810.4,525.7 810.6,499.6 810.9,529.6 811.2,476.5 811.4,501 811.7,538.2 812,505.3 812.3,524.7 812.5,539.2 812.8,540.3 813.1,533.6 813.3,518.4 813.6,530 813.9,495.5 814.1,510.4 814.4,528.7 814.7,526.6 815,445.8 815.2,548.6 815.5,457.1 815.8,446.8 816,485.6 816.3,544.6 816.6,559.9 816.8,547.3 817.1,500.1 817.4,463.8 817.7,587.1 817.9,523.2 818.2,486 818.5,567.6 818.7,539.2 819,518.6 819.3,533 819.5,519.8 819.8,499.9 820.1,493.3 820.4,493.2 820.6,470.8 820.9,510.1 821.2,470.5 821.4,570.3 821.7,577.2 822,565.1 822.2,492.5 822.5,461 822.8,509 823.1,516.4 823.3,441 823.6,476 823.9,557.6 824.1,562.3 824.4,496.1 824.7,524.1 824.9,440.2 825.2,531.7 825.5,528.4 825.8,449.6 826,493.5 826.3,555.8 826.6,545.5 826.8,508.2 827.1,491.3 827.4,475.8 827.6,518.2 827.9,498.7 828.2,424.7 828.5,540 828.7,511.7 829,490 829.3,435.3 829.5,505 829.8,586.3 830.1,598.6 830.3,520.9 830.6,420.4 830.9,467.4 831.2,496.5 831.4,578.2 831.7,554.6 832,466.4 832.2,475.1 832.5,459.9 832.8,534.5 833,527 833.3,502.5 833.6,492.2 833.9,556.7 834.1,512.4 834.4,494.1 834.7,466.1 834.9,509.9 835.2,557.8 835.5,576.3 835.7,507.6 836,541 836.3,477.5 836.6,490.8 836.8,476.1 837.1,503.8 837.4,498.9 837.6,528.5 837.9,496.1 838.2,523.7 838.4,509.1 838.7,569.9 839,491.4 839.3,467.9 839.5,526.5 839.8,477.8 840.1,499.8 840.3,538.2 840.6,578.1 840.9,503.9 841.1,515 841.4,500.3 841.7,551.3 842,535.7 842.2,472.7 842.5,468.2 842.8,565.1 843,537.3 843.3,558.4 843.6,477.4 843.8,508.3 844.1,511.3 844.4,584.3 844.7,526.8 844.9,543.3 845.2,433.8 845.5,496.8 845.7,515.4 846,484 846.3,436.7 846.5,501.4 846.8,585.7 847.1,523.5 847.4,474.5 847.6,457.6 847.9,486.6 848.2,555.2 848.4,552.2 848.7,534.4 849,491.8 849.2,437.6 849.5,561.2 849.8,553.6 850.1,583.7 850.3,453.5 850.6,540.9 850.9,441.4 851.1,573.1 851.4,535.2 851.7,447.4 851.9,426.8 852.2,569.1 852.5,525.1 852.8,518.6 853,582.1 853.3,485.7 853.6,462.8 853.8,462.9 854.1,533 854.4,585 854.6,629.4 854.9,376.1 855.2,464.4 855.5,531.7 855.7,549.3 856,549 856.3,421.7 856.5,492.4 856.8,535.9 857.1,541.3 857.3,500.2 857.6,524.6 857.9,541.8 858.2,465 858.4,462.1 858.7,494.8 859,562.7 859.2,548 859.5,498.7 859.8,400.9 860,448.8 860.3,537.9 860.6,596.5 860.9,484.5 861.1,458.9 861.4,492.5 861.7,421.6 861.9,482.1 862.2,629.4 862.5,620.1 862.7,479.3 863,467.3 863.3,384 863.6,502.7 863.8,629.4 864.1,580.1 864.4,493.1 864.6,438.9 864.9,479.3 865.2,534.3 865.4,454.1 865.7,515 866,539.3 866.2,461.3 866.5,542.6 866.8,545.4 867.1,465.4 867.3,555.1 867.6,483.6 867.9,566.4 868.1,503.1 868.4,479 868.7,527.3 868.9,625.6 869.2,537.1 869.5,448.1 869.8,421.7 870,512.2 870.3,572.9 870.6,584.6 870.8,468.9 871.1,334.1 871.4,443.9 871.6,504.5 871.9,692.8 872.2,512.9 872.5,508.3 872.7,478.4 873,550.8 873.3,447 873.5,497.9 873.8,522.4 874.1,480 874.3,499.9 874.6,497.7 874.9,554.9 875.2,520.5 875.4,506.7 875.7,498.9 876,523 876.2,461 876.5,509.3 876.8,538.8 877,541.5 877.3,512.6 877.6,464.5 877.9,522 878.1,533.6 878.4,486.9 878.7,516.1 878.9,512.4 879.2,535.4 879.5,521.8 879.7,484.4 880,493.7 880.3,477.8 880.6,518.9 880.8,529.6 881.1,539 881.4,505.1 881.6,498.3 881.9,454.3 882.2,512.3 882.4,545.1 882.7,511.7 883,477 883.3,514.1 883.5,532.9 883.8,528.9 884.1,488.4 884.3,468.9 884.6,491.1 884.9,538.9 885.1,535.3 885.4,534.5 885.7,483 886,460.8 886.2,491.7 886.5,505.1 886.8,515.5 887,467.5 887.3,516.2 887.6,498 887.8,537.8 888.1,483.9 888.4,466.5 888.7,469.6 888.9,519 889.2,551.7 889.5,488.8 889.7,441.7 890,517.8 890.3,573.1 890.5,540.7 890.8,477.8 891.1,445 891.4,495.8 891.6,545.7 891.9,512.4 892.2,478.5 892.4,487.6 892.7,512.2 893,536.2 893.2,494.1 893.5,485 893.8,526 894.1,493.3 894.3,506.1 894.6,523.1 894.9,490.5 895.1,506.5 895.4,534.9 895.7,541.7 895.9,551.9 896.2,506.4 896.5,467.9 896.8,477.6 897,518.2 897.3,491 897.6,498 897.8,535.3 898.1,478.8 898.4,491.4 898.6,479.8 898.9,408.5 899.2,539.8 899.5,600.2 899.7,566.5 900,528.3 900.3,461 900.5,398.5 900.8,484.5 901.1,586.8 901.3,565.9 901.6,496.4 901.9,434.1 902.2,499.1 902.4,505.7 902.7,543.4 903,589.1 903.2,500.9 903.5,492.3 903.8,479.6 904,473.2 904.3,548.3 904.6,501 904.9,464.2 905.1,475.2 905.4,497.7 905.7,535.4 905.9,517.1 906.2,469.1 906.5,510.4 906.7,551 907,486.8 907.3,457.9 907.6,526 907.8,545.3 908.1,510.1 908.4,493.5 908.6,498.1 908.9,484 909.2,509.8 909.4,541.9 909.7,433.8 910,447.1 910.3,483.9 910.5,448.7 910.8,423.8 911.1,430.8 911.3,510.9 911.6,528.9 911.9,546.1 912.1,574.6 912.4,492.6 912.7,466.4 913,472.8 913.2,536.4 913.5,553.6 913.8,605.1 914,453.7 914.3,421.5 914.6,427.3 914.8,561.2 915.1,538.4 915.4,624.9 915.7,522.1 915.9,453.2 916.2,494.2 916.5,538.4 916.7,599.7 917,479.6 917.3,461.8 917.5,496.6 917.8,571.3 918.1,513.7 918.4,448.8 918.6,488.5 918.9,581.1 919.2,542.1 919.4,575.9 919.7,407.5 920,417.3 920.2,431.7 920.5,533.9 920.8,510.6 921,527.6 921.3,541.3 921.6,492.4 921.9,468.9 922.1,471.1 922.4,544.9 922.7,497 922.9,536 923.2,555.7 923.5,512.5 923.7,479.5 924,494.6 924.3,451.3 924.6,566.1 924.8,563.1 925.1,523.3 925.4,418.4 925.6,397.7 925.9,547.4 926.2,568.7 926.4,544.2 926.7,514.8 927,495.8 927.3,480.6 927.5,474.2 927.8,575.8 928.1,601.1 928.3,527.7 928.6,521.1 928.9,596.9 929.1,444.6 929.4,465.2 929.7,629.4 930,595.9 930.2,536 930.5,436.8 930.8,384 931,492.3 931.3,535 931.6,582.2 931.8,515.5 932.1,458.5 932.4,461.4 932.7,431.8 932.9,557.5 933.2,550.5 933.5,534.3 933.7,468.3 934,520.4 934.3,522.5 934.5,558.8 934.8,459.1 935.1,493.5 935.4,462.5 935.6,464.7 935.9,571.4 936.2,598.6 936.4,457.8 936.7,416.8 937,465.4 937.2,575.5 937.5,530 937.8,556.1 938.1,488.1 938.3,500.2 938.6,501.7 938.9,482 939.1,497.4 939.4,543.7 939.7,472.5 939.9,498.8 940.2,519.8 940.5,472.3 940.8,457.8 941,477.7 941.3,512 941.6,546.7 941.8,496.7 942.1,462.4 942.4,464.8 942.6,480.2 942.9,555.6 943.2,522.4 943.5,486.7 943.7,515.7 944,522.2 944.3,513.1 944.5,505.4 944.8,504.4 945.1,522.9 945.3,499.8 945.6,493.5 945.9,505.6 946.2,509.8 946.4,499.7 946.7,488.3 947,492.8 947.2,521.7 947.5,513.7 947.8,529.8 948,466.1 948.3,470.5 948.6,475.3 948.9,526.9 949.1,556.7 949.4,540.1 949.7,512.4 949.9,488.4 950.2,492.3 950.5,496.3 950.7,521.5 951,507 951.3,487.9 951.6,510.8 951.8,555.4 952.1,523.3 952.4,527.5 952.6,489.1 952.9,477.6 953.2,487.4 953.4,543.7 953.7,529.8 954,483.8 954.3,499.6 954.5,507.8 954.8,527.8 955.1,482.4 955.3,505 955.6,474.8 955.9,521.8 956.1,463.7 956.4,519.8 956.7,511.1 957,536.8 957.2,513.1 957.5,467.8 957.8,467.4 958,531 958.3,529.4 958.6,518.5 958.8,535.6 959.1,460 959.4,527.3 959.7,526.4 959.9,517.8 960.2,557.3 960.5,548.6 960.7,500.7 961,473.6 961.3,405.2 961.5,452.7 961.8,498.9 962.1,530.9 962.4,584.3 962.6,516 962.9,480.1 963.2,430.3 963.4,470.7 963.7,507.9 964,515.8 964.2,481.4 964.5,470.5 964.8,543.6 965.1,585.3 965.3,509.1 965.6,514.9 965.9,477.8 966.1,444.1 966.4,570.2 966.7,517.7 966.9,525.7 967.2,454 967.5,469.7 967.8,509.8 968,488.8 968.3,513.6 968.6,468.8 968.8,464.7 969.1,500.8 969.4,531.8 969.6,499.2 969.9,471.5 970.2,501.5 970.5,526.1 970.7,567.7 971,500.5 971.3,474.6 971.5,450.4 971.8,495.3 972.1,522.9 972.3,560.1 972.6,485.5 972.9,492.5 973.1,506.1 973.4,470.3 973.7,456.1 974,454.8 974.2,511.5 974.5,545.8 974.8,567.7 975,480.9 975.3,478.5 975.6,500 975.8,468.6 976.1,584.3 976.4,483.1 976.7,444.8 976.9,510.7 977.2,532 977.5,521.7 977.7,488.4 978,403.8 978.3,492.9 978.5,501.5 978.8,550.9 979.1,545.9 979.4,452.6 979.6,456.9 979.9,500.4 980.2,549.4 980.4,549 980.7,475.6 981,479.3 981.2,554.5 981.5,606.7 981.8,520.7 982.1,440.7 982.3,461.7 982.6,520.7 982.9,584 983.1,485.2 983.4,515.3 983.7,454.1 983.9,502.2 984.2,518.3 984.5,528.4 984.8,519.3 985,446.9 985.3,439 985.6,519.9 985.8,577.1 986.1,514.8 986.4,466.5 986.6,464.4 986.9,495.9 987.2,522.2 987.5,513.5 987.7,478.4 988,500.8 988.3,469 988.5,517.5 988.8,510.9 989.1,489 989.3,501.4 989.6,460.2 989.9,449.1 990.2,511.1 990.4,552.7 990.7,495.9 991,471.9 991.2,506.1 991.5,532.6 991.8,504.3 992,504.1 992.3,457.4 992.6,492.8 992.9,501.9 993.1,548.6 993.4,519.1 993.7,497.1 993.9,479.6 994.2,528.2 994.5,496.5 994.7,511.9 995,483.8 995.3,462.1 995.6,533.8 995.8,505.4 996.1,509.4 996.4,526.8 996.6,551.6 996.9,521.8 997.2,451.4 997.4,522.8 997.7,562.6 998,544.1 998.3,476.2 998.5,462.6 998.8,560.9 999.1,556.8 999.3,491.5 999.6,442.3 999.9,493.7 1000.1,521 1000.4,473.5 1000.7,444.1 1001,480.2 1001.2,515.9 1001.5,534.5 1001.8,485.7 1002,471.5 1002.3,542.2 1002.6,545.9 1002.8,489.9 1003.1,507.8 1003.4,498.4 1003.7,486.2 1003.9,457.8 1004.2,502.7 1004.5,534.3 1004.7,536 1005,539.7 1005.3,509.8 1005.5,495.4 1005.8,532.8 1006.1,500.8 1006.4,508.3 1006.6,453 1006.9,504.5 1007.2,522 1007.4,532.3 1007.7,441.3 1008,480.5 1008.2,453.1 1008.5,488 1008.8,542.1 1009.1,533.7 1009.3,506.8 1009.6,481 1009.9,486.6 1010.1,498.3 1010.4,496.3 1010.7,508.3 1010.9,511.3 1011.2,525.1 1011.5,546.4 1011.8,485.6 1012,494.2 1012.3,455.9 1012.6,492.8 1012.8,517.7 1013.1,506.4 1013.4,472.1 1013.6,472.1 1013.9,494.1 1014.2,536.7 1014.5,495.7 1014.7,500.1 1015,504.7 1015.3,497.7 1015.5,499.9 1015.8,486.6 1016.1,513.3 1016.3,499.2 1016.6,567.6 1016.9,505.9 1017.2,482.2 1017.4,440.1 1017.7,510.6 1018,538.9 1018.2,542.1 1018.5,541.2 1018.8,531.5 1019,445.7 1019.3,434.8 1019.6,577.9 1019.9,553.3 1020.1,478.7 1020.4,443.2 1020.7,531.7 1020.9,564.4 1021.2,512.5 1021.5,468.5 1021.7,432.4 1022,484.3 1022.3,525.3 1022.6,516.5 1022.8,524.6 1023.1,560.5 1023.4,513.8 1023.6,479.2 1023.9,509.8 1024.2,501.7 1024.4,544.5 1024.7,546.1 1025,505.8 1025.3,466.8 1025.5,488 1025.8,536.9 1026.1,464.8 1026.3,494.2 1026.6,561.8 1026.9,494.4 1027.1,492.3 1027.4,546.6 1027.7,548.5 1027.9,491.6 1028.2,509.4 1028.5,483 1028.8,506.1 1029,533.6 1029.3,533.5 1029.6,459.1 1029.8,470.7 1030.1,550.4 1030.4,501.8 1030.6,496.6 1030.9,466.7 1031.2,473.9 1031.5,577.3 1031.7,513.7 1032,502.9 1032.3,530 1032.5,491.9 1032.8,506.6 1033.1,502.1 1033.3,563.9 1033.6,558.4 1033.9,438 1034.2,451.3 1034.4,465.4 1034.7,603.3 1035,586.1 1035.2,565 1035.5,447.9 1035.8,417.3 1036,452.8 1036.3,573.2 1036.6,515.9 1036.9,492.3 1037.1,492.5 1037.4,481.3 1037.7,483.9 1037.9,538.3 1038.2,510.3 1038.5,489.9 1038.7,424.9 1039,524.4 1039.3,565.7 1039.6,588.9 1039.8,473.6 1040.1,395.2 1040.4,478.8 1040.6,521 1040.9,581.1 1041.2,540.5 1041.4,465.1 1041.7,439.9 1042,543.3 1042.3,489.7 1042.5,522.3 1042.8,484 1043.1,509.5 1043.3,526.7 1043.6,506.7 1043.9,504.9 1044.1,486 1044.4,570.4 1044.7,501.2 1045,474 1045.2,482.5 1045.5,438 1045.8,488.3 1046,484.2 1046.3,526.7 1046.6,537.2 1046.8,517.8 1047.1,490.2 1047.4,408.4 1047.7,461.9 1047.9,659.5 1048.2,553.4 1048.5,559.2 1048.7,457.8 1049,532.8 1049.3,506.9 1049.5,481 1049.8,536.9 1050.1,533.5 1050.4,573.5 1050.6,523.6 1050.9,469.4 1051.2,460.9 1051.4,428.4 1051.7,535.9 1052,528 1052.2,588.8 1052.5,494.9 1052.8,416.2 1053.1,384 1053.3,463.4 1053.6,515 1053.9,598.4 1054.1,512.7 1054.4,536 1054.7,456.2 1054.9,510.1 1055.2,528.2 1055.5,537 1055.8,532.6 1056,486.5 1056.3,511 1056.6,509.5 1056.8,538.6 1057.1,478.7 1057.4,533.8 1057.6,458.3 1057.9,435.9 1058.2,559.2 1058.5,552.6 1058.7,557.1 1059,494.8 1059.3,500 1059.5,456 1059.8,485.8 1060.1,512.5 1060.3,525.6 1060.6,462.1 1060.9,570.8 1061.2,555.7 1061.4,489.3 1061.7,500.3 1062,475.6 1062.2,432 1062.5,526.7 1062.8,534.6 1063,506.5 1063.3,470.8 1063.6,485.1 1063.9,571.7 1064.1,493.7 1064.4,493.5 1064.7,484.5 1064.9,500.7 1065.2,507.9 1065.5,471.2 1065.7,477 1066,486.7 1066.3,578.7 1066.6,542.3 1066.8,492.4 1067.1,476.7 1067.4,462.4 1067.6,472.7 1067.9,476.2 1068.2,541.5 1068.4,523.7 1068.7,562 1069,528.2 1069.3,495.9 1069.5,530.4 1069.8,503.8 1070.1,565.7 1070.3,525.3 1070.6,531 1070.9,436.6 1071.1,459.1 1071.4,475.5 1071.7,527 1072,491.4 1072.2,518.2 1072.5,507.5 1072.8,513.1 1073,484.5 1073.3,496.1 1073.6,552.6 1073.8,479.7 1074.1,434.6 1074.4,519.6 1074.7,426.1 1074.9,528.6 1075.2,485 1075.5,502.6 1075.7,477.3 1076,526 1076.3,552.4 1076.5,612.1 1076.8,451.1 1077.1,481.3 1077.4,522.2 1077.6,533.7 1077.9,544.7 1078.2,475 1078.4,471 1078.7,504.1 1079,520.7 1079.2,530.4 1079.5,557.5 1079.8,539.6 1080.1,495.8 1080.3,479.1 1080.6,516.6 1080.9,451.1 1081.1,463.7 1081.4,466.7 1081.7,522.9 1081.9,479.9 1082.2,507.3 1082.5,522.3 1082.7,538.6 1083,458.4 1083.3,384 1083.6,541.6 1083.8,559.4 1084.1,587 1084.4,457.8 1084.6,421.4 1084.9,469.1 1085.2,568.1 1085.4,509.4 1085.7,506 1086,582.1 1086.3,548.3 1086.5,493.9 1086.8,502.3 1087.1,443.3 1087.3,514.9 1087.6,538.9 1087.9,544 1088.1,535 1088.4,529.3 1088.7,465.3 1089,474.1 1089.2,449.1 1089.5,491.7 1089.8,597.7 1090,491.4 1090.3,495.6 1090.6,500.8 1090.8,503.3 1091.1,569.9 1091.4,470.3 1091.7,523.2 1091.9,534.3 1092.2,537.5 1092.5,526.3 1092.7,506.7 1093,465.8 1093.3,449.4 1093.5,509.1 1093.8,533.4 1094.1,525.7 1094.4,524.9 1094.6,469.2 1094.9,524 1095.2,462.1 1095.4,541.8 1095.7,516.4 1096,520 1096.2,473.7 1096.5,487 1096.8,509.6 1097.1,502.4 1097.3,483.6 1097.6,486.2 1097.9,520 1098.1,567.5 1098.4,550.6 1098.7,522 1098.9,525.7 1099.2,484.7 1099.5,481.9 1099.8,495.8 1100,540.2 1100.3,559.6 1100.6,556.5 1100.8,468.9 1101.1,474.9 1101.4,499.9 1101.6,505.5 1101.9,520.9 1102.2,477.8 1102.5,511.8 1102.7,509.3 1103,491.5 1103.3,552.2 1103.5,512.2 1103.8,498.5 1104.1,509.1 1104.3,476.4 1104.6,486.3 1104.9,540.2 1105.2,507 1105.4,468.1 1105.7,475.2 1106,533.3 1106.2,540.8 1106.5,527.2 1106.8,486.1 1107,497.5 1107.3,530.4 1107.6,504.4 1107.9,451.2 1108.1,488.8 1108.4,524.5 1108.7,503.9 1108.9,490.6 1109.2,515.2 1109.5,502 1109.7,481 1110,456.8 1110.3,504.2 1110.6,532.8 1110.8,518.1 1111.1,464.9 1111.4,474.1 1111.6,497.2 1111.9,511.5 1112.2,537.3 1112.4,508.4 1112.7,511.8 1113,479.4 1113.3,497.9 1113.5,476 1113.8,466.3 1114.1,510.6 1114.3,505.5 1114.6,471.3 1114.9,509.6 1115.1,537 1115.4,556.5 1115.7,506.6 1116,474.2 1116.2,514.2 1116.5,476 1116.8,529.4 1117,529.9 1117.3,530.6 1117.6,481.3 1117.8,427.7 1118.1,493.9 1118.4,543.9 1118.7,514.1 1118.9,480.4 1119.2,499.1 1119.5,513.8 1119.7,482 1120,467.8 1120.3,547.9 1120.5,474.7 1120.8,497.7 1121.1,513.4 1121.4,519 1121.6,528.1 1121.9,544 1122.2,521.2 1122.4,427.2 1122.7,498.4 1123,523.4 1123.2,560.3 1123.5,503 1123.8,479.6 1124.1,546.5 1124.3,487.7 1124.6,489.2 1124.9,470.9 1125.1,496.9 1125.4,583.7 1125.7,531 1125.9,423.9 1126.2,512.6 1126.5,512.8 1126.8,549.2 1127,420.7 1127.3,443.7 1127.6,525.3 1127.8,629.4 1128.1,534.5 1128.4,411 1128.6,454.2 1128.9,548.4 1129.2,416.1 1129.5,489.1 1129.7,570.1 1130,561.2 1130.3,559.6 1130.5,491.5 1130.8,491.1 1131.1,480.7 1131.3,511.3 1131.6,551.8 1131.9,510 1132.2,530 1132.4,482.8 1132.7,469.8 1133,457.2 1133.2,478.3 1133.5,506.3 1133.8,554.9 1134,499.8 1134.3,438.2 1134.6,604.3 1134.9,572.6 1135.1,536.6 1135.4,480.4 1135.7,416.4 1135.9,475.4 1136.2,526.8 1136.5,527.3 1136.7,511.7 1137,542.1 1137.3,501.2 1137.5,435.7 1137.8,484.7 1138.1,440.6 1138.4,492.9 1138.6,548.2 1138.9,468.9 1139.2,486.6 1139.4,545.5 1139.7,414.3 1140,432.6 1140.2,529.3 1140.5,527.1 1140.8,532 1141.1,458.7 1141.3,518.4 1141.6,534.3 1141.9,526 1142.1,468.6 1142.4,566.6 1142.7,620.6 1142.9,533 1143.2,517.9 1143.5,533.6 1143.8,558.5 1144,511.4 1144.3,497.2 1144.6,471.6 1144.8,499.2 1145.1,465.8 1145.4,524.3 1145.6,513.1 1145.9,516.9 1146.2,530.2 1146.5,523.2 1146.7,530.2 1147,460.7 1147.3,577.7 1147.5,493.8 1147.8,562.2 1148.1,365.8 1148.3,475.3 1148.6,512.1 1148.9,655.2 1149.2,573.6 1149.4,523.5 1149.7,461.3 1150,441.3 1150.2,552.8 1150.5,479.2 1150.8,529.4 1151,526.3 1151.3,519.3 1151.6,469.7 1151.9,426.6 1152.1,462 1152.4,508.2 1152.7,549.1 1152.9,501.4 1153.2,514 1153.5,501.5 1153.7,555 1154,572.6 1154.3,543.3 1154.6,435.4 1154.8,418.4 1155.1,490.1 1155.4,575.5 1155.6,487.8 1155.9,503.7 1156.2,500.2 1156.4,505.8 1156.7,498.8 1157,454.2 1157.3,481.4 1157.5,575.6 1157.8,595.7 1158.1,525.8 1158.3,447.9 1158.6,388.5 1158.9,505.4 1159.1,577.2 1159.4,576.7 1159.7,505.3 1160,453.2 1160.2,503.3 1160.5,477.4 1160.8,478.7 1161,463.9 1161.3,544.1 1161.6,560.6 1161.8,574.4 1162.1,529 1162.4,480.4 1162.7,514.6 1162.9,545.3 1163.2,479.8 1163.5,515.8 1163.7,443.6 1164,481.3 1164.3,452.2 1164.5,549.8 1164.8,575.7 1165.1,542.7 1165.4,471.3 1165.6,440.7 1165.9,534.8 1166.2,522.3 1166.4,517 1166.7,524.1 1167,528.9 1167.2,506.5 1167.5,449.4 1167.8,478 1168.1,522.1 1168.3,583.3 1168.6,518.3 1168.9,502.5 1169.1,428.6 1169.4,500.2 1169.7,498.8 1169.9,535.6 1170.2,522.8 1170.5,478.3 1170.8,451 1171,493.1 1171.3,499.7 1171.6,503 1171.8,479.3 1172.1,471 1172.4,542.1 1172.6,499.8 1172.9,512.2 1173.2,551.5 1173.5,482.5 1173.7,479.1 1174,446.4 1174.3,510 1174.5,526.3 1174.8,525.9 1175.1,543.1 1175.3,470 1175.6,499.5 1175.9,467.2 1176.2,486.3 1176.4,549.3 1176.7,540.5 1177,486.5 1177.2,467.3 1177.5,493.3 1177.8,558.1 1178,548.4 1178.3,487.5 1178.6,488.3 1178.9,485.6 1179.1,548.8 1179.4,532 1179.7,517.8 1179.9,550.9 1180.2,499.5 1180.5,503.1 1180.7,498.9 1181,498.1 1181.3,483.8 1181.6,501.7 1181.8,556.5 1182.1,536.8 1182.4,495.1 1182.6,489 1182.9,472.1 1183.2,502.9 1183.4,523.2 1183.7,544.3 1184,532.8 1184.3,530.9 1184.5,494.8 1184.8,509 1185.1,447.9 1185.3,486.5 1185.6,522.5 1185.9,509.3 1186.1,489 1186.4,489.1 1186.7,517.6 1187,565.5 1187.2,497.2 1187.5,461.1 1187.8,443.7 1188,553.8 1188.3,580.3 1188.6,558.5 1188.8,492.4 1189.1,462.4 1189.4,518.3 1189.6,462.9 1189.9,501.2 1190.2,541 1190.5,546 1190.7,557.9 1191,484.9 1191.3,504.4 1191.5,543.5 1191.8,449.5 1192.1,450.5 1192.3,473.9 1192.6,557.8 1192.9,529.9 1193.2,539.7 1193.4,476.6 1193.7,414 1194,515.9 1194.2,502.7 1194.5,563.9 1194.8,507.1 1195,489.1 1195.3,511.1 1195.6,511.5 1195.9,563.5 1196.1,517.8 1196.4,510.6 1196.7,510 1196.9,493.3 1197.2,523.6 1197.5,446.9 1197.7,526.8 1198,530.2 1198.3,545.3 1198.6,497.3 1198.8,477.8 1199.1,522.3 1199.4,500.1 1199.6,493.9 1199.9,515.3 1200.2,483 1200.4,501.7 1200.7,547.3 1201,429.9 1201.3,462.8 1201.5,508.1 1201.8,552.7 1202.1,586.7 1202.3,512.1 1202.6,489.4 1202.9,502.3 1203.1,506.9 1203.4,619.4 1203.7,463.1 1204,501.6 1204.2,477.5 1204.5,444.2 1204.8,522.6 1205,541.8 1205.3,482.4 1205.6,534.4 1205.8,501.2 1206.1,498.3 1206.4,452.4 1206.7,467.9 1206.9,497.5 1207.2,559 1207.5,536.2 1207.7,456.8 1208,384 1208.3,494.7 1208.5,543.9 1208.8,589.2 1209.1,459.5 1209.4,387.7 1209.6,420.5 1209.9,523.6 1210.2,563.9 1210.4,555.9 1210.7,467.8 1211,445.5 1211.2,459.9 1211.5,550.9 1211.8,557.7 1212.1,525 1212.3,521.3 1212.6,551.5 1212.9,461.8 1213.1,458 1213.4,507 1213.7,492.6 1213.9,583.8 1214.2,529.9 1214.5,483.7 1214.8,473.8 1215,522.2 1215.3,553.3 1215.6,586.5 1215.8,490.2 1216.1,554 1216.4,464.7 1216.6,456.4 1216.9,587.1 1217.2,488.1 1217.5,503.3 1217.7,478.7 1218,529.4 1218.3,541.7 1218.5,525.7 1218.8,514.3 1219.1,442.6 1219.3,460.4 1219.6,542.1 1219.9,546.7 1220.2,488.2 1220.4,476.6 1220.7,573.4 1221,518.6 1221.2,516.3 1221.5,482.6 1221.8,483.5 1222,510.5 1222.3,465.6 1222.6,528.1 1222.9,501.3 1223.1,513.7 1223.4,485.5 1223.7,502 1223.9,509.1 1224.2,573.1 1224.5,499.7 1224.7,515.8 1225,495.7 1225.3,501.1 1225.6,474.4 1225.8,502 1226.1,578.1 1226.4,508.8 1226.6,561.2 1226.9,469.5 1227.2,453.6 1227.4,516.6 1227.7,486.6 1228,531.7 1228.3,562.3 1228.5,509.8 1228.8,533.1 1229.1,594.7 1229.3,521.5 1229.6,431.4 1229.9,437.6 1230.1,461.4 1230.4,520.1 1230.7,505.7 1231,495.4 1231.2,500.6 1231.5,561.5 1231.8,471.2 1232,498 1232.3,501.3 1232.6,496.9 1232.8,394.7 1233.1,637.3 1233.4,529.6 1233.7,464.9 1233.9,442.4 1234.2,521.8 1234.5,529.4 1234.7,563.8 1235,438.4 1235.3,483.1 1235.5,472.7 1235.8,559.6 1236.1,589.7 1236.4,421.9 1236.6,493.2 1236.9,451.9 1237.2,553.2 1237.4,539.5 1237.7,531.7 1238,436.4 1238.2,476.1 1238.5,456.1 1238.8,469.8 1239.1,467.1 1239.3,486.6 1239.6,495.2 1239.9,531.7 1240.1,555.4 1240.4,550.5 1240.7,513.6 1240.9,479.4 1241.2,482.4 1241.5,559.6 1241.8,511.7 1242,472 1242.3,493.5 1242.6,569.2 1242.8,598.2 1243.1,548 1243.4,446.4 1243.6,404 1243.9,531.4 1244.2,609.4 1244.4,542 1244.7,536.1 1245,456.5 1245.3,386.1 1245.5,431 1245.8,505.3 1246.1,509.6 1246.3,553.5 1246.6,451.3 1246.9,470.7 1247.1,491.9 1247.4,536.3 1247.7,506.8 1248,476.4 1248.2,443.3 1248.5,472.1 1248.8,556.7 1249,469 1249.3,477.5 1249.6,460.6 1249.8,518.6 1250.1,512.6 1250.4,513.7 1250.7,542.6 1250.9,537.1 1251.2,509 1251.5,432.3 1251.7,579.6 1252,619.2 1252.3,538.4 1252.5,517.4 1252.8,526.9 1253.1,545.8 1253.4,568.3 1253.6,463.3 1253.9,501.2 1254.2,514.1 1254.4,563.1 1254.7,491.6 1255,392.9 1255.2,435.8 1255.5,521.2 1255.8,557.2 1256.1,506.7 1256.3,490.8 1256.6,587.4 1256.9,477.2 1257.1,498.5 1257.4,489.5 1257.7,499.5 1257.9,472.3 1258.2,532.7 1258.5,469.2 1258.8,518.6 1259,536.2 1259.3,554.4 1259.6,442 1259.8,477.2 1260.1,480.9 1260.4,519.2 1260.6,524.7 1260.9,480.4 1261.2,492.9 1261.5,446.3 1261.7,466.9 1262,553.3 1262.3,533.9 1262.5,485.1 1262.8,394.6 1263.1,491.4 1263.3,616.8 1263.6,575.5 1263.9,450.2 1264.2,449.2 1264.4,490.9 1264.7,555.1 1265,555.4 1265.2,517.8 1265.5,478.3 1265.8,529.2 1266,427.6 1266.3,494.1 1266.6,559.7 1266.9,472.7 1267.1,527.6 1267.4,456.5 1267.7,481.7 1267.9,406.8 1268.2,501.6 1268.5,600.7 1268.7,511.2 1269,519.6 1269.3,517.8 1269.6,483.3 1269.8,608.8 1270.1,533.3 1270.4,555.6 1270.6,514.9 1270.9,428.5 1271.2,455.9 1271.4,513.3 1271.7,550.2 1272,547.2 1272.3,495.3 1272.5,517 1272.8,554.6 1273.1,472 1273.3,482.4 1273.6,519.1 1273.9,458.3 1274.1,535.3 1274.4,518.3 1274.7,589.9 1275,497.1 1275.2,459.5 1275.5,438.3 1275.8,537.7 1276,522.6 1276.3,510.3 1276.6,488.5 1276.8,469.5 1277.1,526.1 1277.4,518.7 1277.7,448.2 1277.9,507.8 1278.2,501.1 1278.5,575 1278.7,567.4 1279,444.3 1279.3,394.5 1279.5,429.8 1279.8,561.2 1280.1,561.7 1280.4,562.3 1280.6,511.7 1280.9,547.8 1281.2,501.3 1281.4,447.6 1281.7,481.2 1282,515.1 1282.2,523.9 1282.5,505.5 1282.8,453.6 1283.1,456.1 1283.3,571.9 1283.6,557.8 1283.9,433.7 1284.1,479.3 1284.4,517.5 1284.7,524.8 1284.9,518.1 1285.2,511.9 1285.5,529.3 1285.8,540.1 1286,532.9 1286.3,479.7 1286.6,505.3 1286.8,513.7 1287.1,483.5 1287.4,565.4 1287.6,534.4 1287.9,510.9 1288.2,491.6 1288.5,442.5 1288.7,510.6 1289,506.9 1289.3,505.9 1289.5,477.8 1289.8,535.7 1290.1,492.2 1290.3,467.2 1290.6,479.3 1290.9,570.7 1291.2,531.8 1291.4,495.6 1291.7,464.3 1292,555 1292.2,523.3 1292.5,460.8 1292.8,424.1 1293,517.5 1293.3,565.5 1293.6,514.5 1293.9,449.4 1294.1,431 1294.4,544.4 1294.7,580.6 1294.9,510 1295.2,395.7 1295.5,470.8 1295.7,544.8 1296,549.5 1296.3,524.5 1296.6,469.2 1296.8,526.5" fill="none" stroke="#000" stroke-width="1" stroke-linejoin="round"/>
<polyline points="325.3,509.8 326.1,507.6 326.9,507.5 327.7,509.4 328.5,509.4 329.3,507.7 330.1,507.2 330.9,507.3 331.7,505.6 332.6,504.7 333.4,504.5 334.2,505.2 335,507.5 335.8,507.7 336.6,506.4 337.4,505.4 338.2,505.7 339,506.9 339.8,506.1 340.7,504.8 341.5,505.3 342.3,508.7 343.1,511.1 343.9,509.1 344.7,507.4 345.5,507.5 346.3,507.4 347.1,506.2 347.9,506.1 348.8,505.8 349.6,504.6 350.4,504.6 351.2,506 352,506.7 352.8,506.4 353.6,507.5 354.4,508.9 355.2,509.6 356,510.4 356.9,509.5 357.7,509.1 358.5,509.1 359.3,508.8 360.1,508.8 360.9,508 361.7,506.6 362.5,506.8 363.3,507.5 364.1,507.7 365,507.4 365.8,506 366.6,505 367.4,505.7 368.2,507.3 369,506.7 369.8,503.9 370.6,503.7 371.4,506.3 372.2,507.5 373.1,506.8 373.9,506.1 374.7,506.4 375.5,506.7 376.3,507.3 377.1,506.5 377.9,505.4 378.7,505.5 379.5,505.6 380.3,506.2 381.1,507.5 382,507.2 382.8,507.1 383.6,507 384.4,508.9 385.2,511 386,509.1 386.8,506.5 387.6,506.5 388.4,508.2 389.2,508.9 390.1,507.1 390.9,505.4 391.7,507 392.5,507.4 393.3,506.7 394.1,506.1 394.9,505.4 395.7,504 396.5,503.6 397.3,505.3 398.2,507 399,506.2 399.8,505.5 400.6,506.6 401.4,507.8 402.2,508 403,507.3 403.8,507.5 404.6,508.5 405.4,508.8 406.3,508.9 407.1,510.2 407.9,508.6 408.7,505.3 409.5,505.6 410.3,508.5 411.1,509.4 411.9,508.1 412.7,508.3 413.5,509.5 414.4,509 415.2,509 416,509 416.8,506 417.6,505.9 418.4,506.7 419.2,507.2 420,509.3 420.8,508.9 421.6,506.7 422.5,506.5 423.3,506 424.1,505.3 424.9,505 425.7,505.7 426.5,506.8 427.3,507.9 428.1,510 428.9,510.7 429.7,510.3 430.6,508.9 431.4,507.8 432.2,508 433,507.6 433.8,508.2 434.6,508.6 435.4,508.3 436.2,508.7 437,507.8 437.8,507.1 438.6,507.3 439.5,506.4 440.3,505 441.1,506.3 441.9,509.6 442.7,511.7 443.5,511.6 444.3,509.2 445.1,507.5 445.9,506.4 446.7,507.6 447.6,508.5 448.4,506.5 449.2,504.6 450,504.8 450.8,506.5 451.6,506.4 452.4,505.6 453.2,507 454,509.5 454.8,509.2 455.7,507.4 456.5,507.6 457.3,508.2 458.1,507.3 458.9,507.7 459.7,507.5 460.5,507.3 461.3,507.4 462.1,506.9 462.9,505.4 463.8,504 464.6,504.5 465.4,505.8 466.2,504.3 467,502.4 467.8,502.9 468.6,503.2 469.4,504.1 470.2,505.5 471,507.2 471.9,509.2 472.7,508.3 473.5,507.1 474.3,507.7 475.1,507.8 475.9,507.7 476.7,507.4 477.5,507 478.3,506.4 479.1,506.8 480,506.3 480.8,505.6 481.6,505.3 482.4,507.6 483.2,509.4 484,508 484.8,507.4 485.6,507.7 486.4,509.2 487.2,510.3 488,506.5 488.9,502.5 489.7,503.6 490.5,505.8 491.3,506.7 492.1,507.8 492.9,508.9 493.7,507.9 494.5,506.8 495.3,507.9 496.1,508.6 497,508.2 497.8,508.5 498.6,508.5 499.4,508.5 500.2,509.6 501,509.4 501.8,507.7 502.6,508.5 503.4,509.2 504.2,508.2 505.1,507.2 505.9,506.1 506.7,505.1 507.5,504.9 508.3,505.6 509.1,506 509.9,505.8 510.7,505.7 511.5,505.3 512.3,505 513.2,506.6 514,508.1 514.8,509.6 515.6,509.4 516.4,507.3 517.2,506.9 518,506.7 518.8,506.7 519.6,507.8 520.4,508.5 521.3,509 522.1,508.4 522.9,507 523.7,507 524.5,506.2 525.3,506.4 526.1,507.2 526.9,506 527.7,506.5 528.5,507.9 529.4,508.9 530.2,508.4 531,507.3 531.8,507.4 532.6,508.2 533.4,507.8 534.2,506.2 535,505.2 535.8,506.7 536.6,507.7 537.5,507.9 538.3,510.1 539.1,511.8 539.9,510.4 540.7,507.6 541.5,506.6 542.3,507.7 543.1,507.7 543.9,504.2 544.7,501.1 545.5,500.1 546.4,502.4 547.2,505.3 548,506.6 548.8,507.8 549.6,508.8 550.4,508.5 551.2,507.1 552,505.7 552.8,505.4 553.6,507.2 554.5,508.7 555.3,507.5 556.1,506.7 556.9,508.9 557.7,509.5 558.5,508.6 559.3,507.4 560.1,507 560.9,507.4 561.7,507.2 562.6,507.9 563.4,509.4 564.2,510 565,509.2 565.8,509.3 566.6,510.3 567.4,510.1 568.2,507.8 569,506.8 569.8,507.6 570.7,507.9 571.5,506.9 572.3,506.2 573.1,508.1 573.9,509.9 574.7,507.1 575.5,505.3 576.3,506.6 577.1,506.8 577.9,506.6 578.8,507 579.6,507.7 580.4,505.3 581.2,503.9 582,508 582.8,510.9 583.6,509.7 584.4,509.2 585.2,509.7 586,509.2 586.9,508.7 587.7,507.6 588.5,506.6 589.3,507.7 590.1,509.1 590.9,508.9 591.7,510 592.5,510.7 593.3,509.9 594.1,509.6 595,507.7 595.8,505.6 596.6,505.8 597.4,506.3 598.2,506 599,504.9 599.8,504.2 600.6,504.9 601.4,504.8 602.2,505.2 603,506.4 603.9,506.8 604.7,506.5 605.5,506.9 606.3,505.8 607.1,504.9 607.9,506.9 608.7,510 609.5,510.9 610.3,510.1 611.1,510.8 612,511.6 612.8,512.4 613.6,510.6 614.4,507.6 615.2,506.6 616,506 616.8,505.8 617.6,507.6 618.4,509.1 619.2,508.8 620.1,508.6 620.9,508.3 621.7,507.8 622.5,507.3 623.3,507.8 624.1,507.1 624.9,505.2 625.7,505 626.5,506.1 627.3,505.7 628.2,505.3 629,505.7 629.8,506.8 630.6,508.7 631.4,508.6 632.2,506.5 633,506.5 633.8,509.4 634.6,509.7 635.4,507.1 636.3,505.4 637.1,507.3 637.9,509.4 638.7,508.2 639.5,506.3 640.3,506.4 641.1,508.1 641.9,510.4 642.7,510.9 643.5,506.8 644.4,505.6 645.2,507.5 646,507.4 646.8,506.8 647.6,506.4 648.4,506.6 649.2,508.9 650,510.5 650.8,510.7 651.6,509.6 652.4,508 653.3,506.5 654.1,506.5 654.9,507.8 655.7,508.5 656.5,507.3 657.3,505.8 658.1,505.5 658.9,505 659.7,503.4 660.5,503.2 661.4,504.4 662.2,504.7 663,506.5 663.8,509.5 664.6,508.4 665.4,504.5 666.2,504.4 667,508 667.8,509.4 668.6,508.1 669.5,505.8 670.3,504.4 671.1,505.8 671.9,505.7 672.7,504.1 673.5,505.7 674.3,508.9 675.1,510.3 675.9,509.9 676.7,508.9 677.6,506.2 678.4,504.3 679.2,504.7 680,505 680.8,504.6 681.6,505 682.4,506.8 683.2,506.7 684,506.4 684.8,506.9 685.7,507.7 686.5,507.4 687.3,506 688.1,505.1 688.9,505.1 689.7,505.7 690.5,507.9 691.3,508.3 692.1,508.1 692.9,508.2 693.8,506.8 694.6,505.5 695.4,504.9 696.2,506.2 697,508.4 697.8,509.3 698.6,507.9 699.4,506.6 700.2,505.5 701,506.5 701.9,507.8 702.7,507.5 703.5,507.8 704.3,507.3 705.1,505.8 705.9,505.5 706.7,506.8 707.5,508 708.3,509.6 709.1,507.4 709.9,504.3 710.8,504.5 711.6,505.9 712.4,507.7 713.2,508 714,508.9 714.8,509.9 715.6,508.9 716.4,509.8 717.2,513 718,513.7 718.9,510.6 719.7,506.9 720.5,506.2 721.3,508.1 722.1,507.2 722.9,505 723.7,505.8 724.5,506.8 725.3,506 726.1,505.9 727,506.8 727.8,506.3 728.6,504.9 729.4,503.6 730.2,504.1 731,506.3 731.8,507.3 732.6,505.9 733.4,505.5 734.2,506.3 735.1,507.7 735.9,508 736.7,506.9 737.5,507.4 738.3,510.3 739.1,510.9 739.9,509.3 740.7,507.4 741.5,507.9 742.3,509 743.2,507.7 744,505.8 744.8,504.3 745.6,504.6 746.4,505.9 747.2,506.3 748,507.5 748.8,508.9 749.6,508.2 750.4,507.4 751.3,506.9 752.1,505.3 752.9,505.5 753.7,506.2 754.5,506.9 755.3,506.2 756.1,505 756.9,506.9 757.7,509.7 758.5,510.5 759.3,508.4 760.2,506.2 761,507.6 761.8,508.5 762.6,506.6 763.4,507.4 764.2,508.4 765,506.5 765.8,505.7 766.6,507.7 767.4,509.5 768.3,508.7 769.1,504.9 769.9,504.5 770.7,506.8 771.5,507 772.3,506.8 773.1,507.2 773.9,507.9 774.7,508 775.5,506.2 776.4,504.5 777.2,503.9 778,504.3 778.8,505.3 779.6,507.5 780.4,509.2 781.2,508.1 782,505.8 782.8,505.2 783.6,507.1 784.5,509.6 785.3,509.5 786.1,509.7 786.9,508.6 787.7,505.9 788.5,504.7 789.3,506.4 790.1,508.1 790.9,508.4 791.7,507.7 792.6,507.4 793.4,507.3 794.2,505.9 795,506.5 795.8,507.8 796.6,508.8 797.4,509.5 798.2,507.9 799,506.7 799.8,506.4 800.7,505.8 801.5,505.8 802.3,506.9 803.1,506.7 803.9,503.7 804.7,502.5 805.5,503.8 806.3,505.5 807.1,507.9 807.9,510.6 808.8,511.5 809.6,510.6 810.4,509.1 811.2,507.6 812,507.3 812.8,507.6 813.6,506.5 814.4,503.8 815.2,503 816,502.9 816.8,505 817.7,509.1 818.5,510.3 819.3,508.5 820.1,506.6 820.9,505.2 821.7,504.4 822.5,505.9 823.3,506.3 824.1,505 824.9,505.2 825.8,505.5 826.6,505.2 827.4,505.6 828.2,505.9 829,506.1 829.8,507.3 830.6,509.3 831.4,510.6 832.2,509.7 833,507.5 833.9,508.7 834.7,509.5 835.5,506.9 836.3,503.9 837.1,503.6 837.9,505.3 838.7,506.4 839.5,506.3 840.3,507.5 841.1,507.3 842,504 842.8,503.6 843.6,506.5 844.4,507.6 845.2,507 846,506.9 846.8,506.8 847.6,506.7 848.4,505.8 849.2,504.5 850.1,504.4 850.9,506.3 851.7,506 852.5,504.1 853.3,504.8 854.1,505.6 854.9,505.6 855.7,506.8 856.5,507.3 857.3,506.1 858.2,504.3 859,504.7 859.8,506.8 860.6,507.5 861.4,507.3 862.2,507.7 863,507.2 863.8,505.4 864.6,505 865.4,507.1 866.2,507.8 867.1,506.5 867.9,507.7 868.7,509.5 869.5,507.9 870.3,506.5 871.1,506.1 871.9,506.2 872.7,505.5 873.5,505.4 874.3,506 875.2,505.9 876,506.6 876.8,507.1 877.6,507.1 878.4,505.3 879.2,502.3 880,501.4 880.8,503.7 881.6,506.4 882.4,507.4 883.3,506.7 884.1,505.2 884.9,504.1 885.7,503.2 886.5,503 887.3,505 888.1,507.8 888.9,507.9 889.7,506.3 890.5,506.6 891.4,507.4 892.2,507.4 893,508.3 893.8,507.9 894.6,505.6 895.4,504.3 896.2,506.6 897,507.7 897.8,506.4 898.6,505 899.5,505.8 900.3,508.3 901.1,508.7 901.9,506.4 902.7,505.8 903.5,507.4 904.3,507.3 905.1,506.4 905.9,508.3 906.7,508 907.6,504.3 908.4,504.1 909.2,506.4 910,507.4 910.8,508.7 911.6,508.6 912.4,507 913.2,509.2 914,512 914.8,511.9 915.7,511.8 916.5,509.7 917.3,506.9 918.1,506.7 918.9,507.9 919.7,507.4 920.5,507.3 921.3,508 922.1,508.7 922.9,509 923.7,507 924.6,506.3 925.4,508.1 926.2,509.1 927,510.3 927.8,509.7 928.6,505.9 929.4,504.4 930.2,504.7 931,505.8 931.8,507 932.7,506.4 933.5,506.9 934.3,508.1 935.1,508.2 935.9,508.6 936.7,509.3 937.5,509.9 938.3,509.3 939.1,509.2 939.9,509.4 940.8,507.7 941.6,506.5 942.4,505.9 943.2,506.4 944,507.6 944.8,507.8 945.6,507.2 946.4,508.1 947.2,508.4 948,507.7 948.9,507.8 949.7,509 950.5,509.8 951.3,509.3 952.1,508.5 952.9,508.6 953.7,508.7 954.5,506.8 955.3,505.8 956.1,507.3 957,507.5 957.8,505.8 958.6,504.8 959.4,504.3 960.2,505.8 961,507.4 961.8,508 962.6,507.3 963.4,506.6 964.2,506.7 965.1,507.1 965.9,508 966.7,507.7 967.5,506.4 968.3,506.6 969.1,508.1 969.9,508.8 970.7,506.9 971.5,504.9 972.3,505.6 973.1,506.3 974,506.6 974.8,506.1 975.6,505.6 976.4,507.5 977.2,509.6 978,510 978.8,508.5 979.6,508.1 980.4,508.5 981.2,509.5 982.1,509.6 982.9,508 983.7,507.9 984.5,507.7 985.3,506.7 986.1,505.1 986.9,505.3 987.7,506.7 988.5,506.9 989.3,507.7 990.2,508.7 991,509.4 991.8,508.3 992.6,507.7 993.4,508.7 994.2,509.4 995,507.6 995.8,506.4 996.6,508.7 997.4,509.2 998.3,506.9 999.1,506.2 999.9,507.8 1000.7,509.2 1001.5,509.8 1002.3,509.9 1003.1,508.5 1003.9,507.6 1004.7,507.5 1005.5,507.5 1006.4,507.2 1007.2,506.3 1008,504.4 1008.8,504 1009.6,506 1010.4,506.9 1011.2,506.2 1012,507.4 1012.8,508.2 1013.6,507.4 1014.5,505.3 1015.3,503.9 1016.1,504.6 1016.9,506.9 1017.7,507.9 1018.5,508.2 1019.3,508.5 1020.1,507.7 1020.9,507.1 1021.7,507.3 1022.6,507.9 1023.4,507.7 1024.2,506.3 1025,504.7 1025.8,505.7 1026.6,507 1027.4,507.5 1028.2,508.1 1029,507.4 1029.8,505.7 1030.6,506.6 1031.5,508.8 1032.3,509.8 1033.1,509.9 1033.9,510.3 1034.7,509.1 1035.5,506 1036.3,504.2 1037.1,504.9 1037.9,505.3 1038.7,503.9 1039.6,504.4 1040.4,504.8 1041.2,505.5 1042,507.1 1042.8,508 1043.6,509.3 1044.4,509.7 1045.2,507 1046,506.1 1046.8,507.3 1047.7,507.5 1048.5,507.7 1049.3,507.8 1050.1,507.5 1050.9,507.8 1051.7,507.8 1052.5,507.7 1053.3,508.6 1054.1,509.6 1054.9,507.8 1055.8,506.2 1056.6,507.9 1057.4,508.9 1058.2,508 1059,509.3 1059.8,510.2 1060.6,509.8 1061.4,511 1062.2,510.1 1063,505.9 1063.9,502.5 1064.7,503 1065.5,506.5 1066.3,508.1 1067.1,507.4 1067.9,506.4 1068.7,505.8 1069.5,507.4 1070.3,506.9 1071.1,503.9 1072,503.9 1072.8,506.7 1073.6,507.4 1074.4,505.8 1075.2,504 1076,505 1076.8,507.8 1077.6,508.9 1078.4,508.8 1079.2,507.5 1080.1,507.6 1080.9,507.8 1081.7,506.9 1082.5,506.6 1083.3,506.5 1084.1,506.7 1084.9,508.3 1085.7,508.6 1086.5,507.1 1087.3,506 1088.1,505.9 1089,506.1 1089.8,505.8 1090.6,504.4 1091.4,503.9 1092.2,505.6 1093,508.4 1093.8,510.7 1094.6,510.8 1095.4,510 1096.2,508.5 1097.1,505.6 1097.9,505 1098.7,507.3 1099.5,508.3 1100.3,507.8 1101.1,507.8 1101.9,506.2 1102.7,504.7 1103.5,505.1 1104.3,507.6 1105.2,509.3 1106,507.5 1106.8,506.5 1107.6,506.1 1108.4,504.1 1109.2,503.7 1110,505 1110.8,505.1 1111.6,504 1112.4,504.7 1113.3,506.7 1114.1,507.9 1114.9,508.1 1115.7,507.6 1116.5,506.1 1117.3,505.2 1118.1,506.1 1118.9,508.7 1119.7,509.3 1120.5,508.3 1121.4,509.9 1122.2,510.5 1123,507.7 1123.8,504.6 1124.6,504 1125.4,505.7 1126.2,506.3 1127,506.8 1127.8,506.5 1128.6,505.7 1129.5,505.2 1130.3,504.7 1131.1,504.6 1131.9,505.2 1132.7,506.6 1133.5,508 1134.3,508.8 1135.1,507.2 1135.9,504.5 1136.7,505.3 1137.5,508 1138.4,509.5 1139.2,508.4 1140,506.4 1140.8,505.6 1141.6,505.5 1142.4,505 1143.2,504.4 1144,505.6 1144.8,507 1145.6,508.1 1146.5,506.8 1147.3,506.7 1148.1,508.3 1148.9,508.9 1149.7,508.5 1150.5,507 1151.3,507 1152.1,508.9 1152.9,509.3 1153.7,508 1154.6,507.4 1155.4,508.1 1156.2,508.5 1157,508.5 1157.8,506.8 1158.6,506.1 1159.4,506.4 1160.2,505.6 1161,505.8 1161.8,507.8 1162.7,510 1163.5,509.3 1164.3,508.3 1165.1,508.5 1165.9,508.7 1166.7,507.3 1167.5,507.2 1168.3,509.4 1169.1,511.1 1169.9,510.3 1170.8,509.3 1171.6,508.2 1172.4,506.7 1173.2,506.5 1174,507.5 1174.8,507.7 1175.6,506.6 1176.4,505.4 1177.2,505.3 1178,505.7 1178.9,506.7 1179.7,507.7 1180.5,507.5 1181.3,506 1182.1,505.1 1182.9,504.6 1183.7,504.3 1184.5,505.8 1185.3,506.3 1186.1,505 1187,504.2 1187.8,505.8 1188.6,507.9 1189.4,505.9 1190.2,504.2 1191,505.2 1191.8,506.8 1192.6,507.1 1193.4,507.3 1194.2,507.9 1195,508.1 1195.9,507 1196.7,506.1 1197.5,506.5 1198.3,507.6 1199.1,509.8 1199.9,511.4 1200.7,510.9 1201.5,510 1202.3,509.2 1203.1,508.9 1204,508.3 1204.8,507.1 1205.6,505 1206.4,505.7 1207.2,507.9 1208,507.2 1208.8,506 1209.6,506.5 1210.4,506.6 1211.2,504.4 1212.1,504.1 1212.9,505.3 1213.7,506.8 1214.5,507.8 1215.3,507.5 1216.1,508.1 1216.9,506.6 1217.7,503.8 1218.5,505 1219.3,506.7 1220.2,506.3 1221,506.5 1221.8,508.4 1222.6,508.7 1223.4,508 1224.2,507.3 1225,508 1225.8,508.8 1226.6,507.9 1227.4,506.7 1228.3,507.9 1229.1,508.6 1229.9,508.5 1230.7,506.4 1231.5,504.8 1232.3,505.3 1233.1,505.7 1233.9,505.7 1234.7,505.2 1235.5,504 1236.4,505.4 1237.2,508.2 1238,508.2 1238.8,507.4 1239.6,507.2 1240.4,506.6 1241.2,506.1 1242,506.8 1242.8,506.8 1243.6,507.3 1244.4,508.2 1245.3,507.7 1246.1,506.2 1246.9,505.6 1247.7,507.9 1248.5,510.5 1249.3,510.5 1250.1,508.5 1250.9,506.9 1251.7,507.9 1252.5,506.8 1253.4,505.5 1254.2,505.2 1255,504.9 1255.8,505.9 1256.6,507.8 1257.4,508.7 1258.2,507.8 1259,507.3 1259.8,506 1260.6,504.4 1261.5,506.6 1262.3,507.1 1263.1,506.9 1263.9,507.8 1264.7,507.6 1265.5,507 1266.3,508.6 1267.1,508.2 1267.9,507.1 1268.7,508.3 1269.6,509.9 1270.4,509.5 1271.2,507.7 1272,505.7 1272.8,505.9 1273.6,507.4 1274.4,507.9 1275.2,508.5 1276,510.5 1276.8,510.9 1277.7,510.4 1278.5,510.1 1279.3,508.1 1280.1,505.4 1280.9,503.6 1281.7,503.4 1282.5,504.3 1283.3,506 1284.1,506.9 1284.9,506.5 1285.8,505.1 1286.6,504.3 1287.4,505.4 1288.2,505.6 1289,504.9 1289.8,507.3 1290.6,509.2 1291.4,508.9 1292.2,509.4 1293,509.3 1293.9,508.4 1294.7,507.4 1295.5,507.6 1296.3,509.9" fill="none" stroke="#d0d000" stroke-width="2.1" stroke-linejoin="round"/>
<polyline points="357.6,296 358.5,295.1 359.7,293.9 361.3,292.4 363.1,291 365.2,289.7 367.7,288.6 370.7,287.5 373.8,286.5 377.1,285.6 380.2,284.9 383.2,284.4 386.1,284.2 389,284 392.1,284 395.3,284 398.8,284.1 402.4,284.5 406.1,284.8 409.8,285.1 413.4,285.2 416.9,285 420.4,284.6 423.8,284.2 427,283.8 429.9,283.7 432.4,283.8 434.5,284.1 436.4,284.5 438.4,285.1 440.5,285.9 442.9,287.1 445.3,288.7 447.8,290.4 450.3,291.8 452.5,292.7 454.5,293.1 456.4,293.1 458.1,292.8 459.8,292 461.6,290.5 463.4,288.1 465.1,285 466.8,281.4 468.6,277.8 470.6,274.6 472.9,271.6 475.4,268.6 478,265.9 480.5,263.7 482.7,262.3 484.4,261.9 485.9,262.3 487.2,263.2 488.6,264.7 490.2,266.4 492.1,268.8 494.3,271.9 496.5,275.2 498.6,278.3 500.7,280.7 502.6,282.2 504.4,283.3 506.1,284 507.9,284.5 509.8,284.9 511.8,285.2 513.9,285.2 516,285.1 518.2,285.1 520.3,285.5 522.4,286.3 524.4,287.3 526.5,288.5 528.6,289.9 530.8,291.2 533.1,292.8 535.5,294.9 538,296.8 540.5,298.2 542.9,298.7 545.4,297.9 548,296.1 550.6,293.8 552.9,291.5 554.9,289.7 556.2,288.6 556.9,287.8 557.5,287.2 558.4,286.2 560,284.8 562.7,282.4 566.2,279.3 570,276 573.6,273.3 576.6,271.7 578.7,271.4 580.3,271.8 581.7,273 583.3,274.8 585.6,277.2 588.8,280.6 592.8,285.2 596.9,290.1 600.7,294.5 603.7,297.6 605.6,299.1 606.6,299.6 607.3,299.5 608.2,299 609.7,298.6 612,298 614.9,297 617.9,295.9 620.8,295 623.3,294.5 625.1,294.4 626.4,294.6 627.6,295.1 628.9,295.8 630.8,296.8 633.4,298.4 636.6,300.6 640,302.9 643.2,304.8 645.8,305.8 647.7,306.1 648.9,305.8 650.1,305.1 651.4,303.6 653.4,301.3 656.2,297.6 659.6,292.7 663.3,287.2 666.8,282.3 669.9,278.7 672.4,276.6 674.6,275.5 676.6,275 678.5,274.9 680.5,275 682.5,275.2 684.3,275.7 686.1,276.6 688.3,277.8 691,279.5 694.3,281.7 698.2,284.4 702.3,287.5 706.5,290.7 710.6,293.8 714.6,296.9 718.7,300.2 722.8,303.5 726.7,306.7 730.2,309.6 733.3,312.1 736.1,314.3 738.7,316.3 741.2,318.5 743.7,320.9 746.2,323.7 748.5,326.8 750.8,330.1 753.2,333.2 755.8,336 758.6,338.9 761.6,342 764.7,344.8 767.7,346.7 770.8,347.3 773.9,346.1 777,343.4 780.1,339.9 783.1,336.2 785.9,333 788.4,330.2 790.7,327.5 792.9,324.7 795.3,322.1 798,319.4 801.1,316.8 804.4,314.4 807.8,312 811.4,309.4 815.1,306.6 818.9,303.4 822.9,299.7 826.9,296.1 830.8,292.7 834.6,290 838.2,288 841.7,286.4 845,285.2 848.2,284.5 851.2,284 853.8,283.9 856,284.2 858.1,284.8 860.5,285.8 863.3,287 866.8,288.9 870.8,291.5 875,294.2 879.1,296.5 882.8,297.6 886,297.5 888.8,296.5 891.5,295 894.5,293 897.9,290.8 902.1,288.1 906.9,284.8 911.9,281.3 916.5,278.1 920.5,275.7 923.6,274 926.1,272.9 928.3,272.1 930.4,271.8 932.5,271.7 934.6,271.9 936.6,272.3 938.6,273.1 940.7,274.5 943.1,276.5 945.9,279.7 949.1,284.1 952.4,288.8 955.5,293 958.1,296.1 960,297.8 961.3,298.6 962.5,298.9 963.8,298.8 965.7,298.6 968.2,298.2 971.2,297.4 974.4,296.5 977.7,295.6 980.7,295 983.4,295 986,295.4 988.5,295.8 991.2,295.8 994.3,295 997.8,292.6 1001.7,289 1005.8,285.2 1009.9,282.2 1013.9,281 1017.9,282.4 1022,285.7 1026,289.9 1029.8,293.7 1033.4,296.1 1036.7,296.8 1039.7,296.4 1042.6,295.6 1045.2,294.7 1047.5,294.5 1049.3,294.8 1050.7,295.3 1051.9,296.1 1053.3,297.1 1055.1,298.3 1057.4,300 1060.1,302.3 1062.9,304.7 1065.8,306.7 1068.6,308.1 1071.4,308.6 1074.3,308.4 1077.2,307.8 1079.9,307.4 1082.2,307.3 1083.9,307.5 1085.2,307.9 1086.3,308.4 1087.7,309.2 1089.7,310.4 1092.5,312.4 1095.8,315.1 1099.3,317.9 1102.9,320.3 1106.3,321.7 1109.4,321.8 1112.6,321 1115.6,319.7 1118.5,318.3 1121.3,317.1 1123.9,316.2 1126.3,315.2 1128.6,314.2 1130.9,313.2 1133.4,312.2 1136,311 1138.6,309.5 1141.2,308.2 1144,307.1 1146.9,306.6 1150,306.9 1153.4,307.9 1156.8,309.2 1160.2,310.2 1163.5,310.7 1166.7,310.3 1169.9,309.2 1173.1,308 1176,306.9 1178.6,306.6 1180.7,306.8 1182.5,307.2 1184.1,308.1 1185.7,309.6 1187.6,311.9 1189.8,315.5 1192.2,320.1 1194.6,325.2 1197.1,330.3 1199.6,334.5 1202.1,338 1204.8,341.2 1207.4,344.1 1209.9,346.5 1212,348.5 1213.8,349.9 1215.2,350.9 1216.5,351.4 1217.8,351.7 1219,351.8 1220.3,351.7 1221.6,351.4 1222.8,350.9 1223.9,350.3 1225,349.5 1225.8,348.9 1226.4,348.5 1227,347.8 1227.8,346.5 1229,344 1230.9,339.3 1233.2,332.7 1235.8,325.8 1238.2,320.3 1240.3,317.9 1242.1,319.7 1243.7,324.5 1245.1,330.7 1246.2,336.6 1247.1,340.5" fill="none" stroke="#00c4c4" stroke-width="2.6" stroke-linejoin="round" stroke-linecap="round"/>
<polyline points="330.5,276.1 332.5,276.1 335.2,276 338.5,275.9 342.1,275.8 345.6,275.8 349.2,275.8 353,275.9 356.9,276 361,276 365.2,275.8 369.5,275.4 374,274.8 378.6,274.1 383.2,273.4 387.8,272.8 392.3,272.3 396.8,271.9 401.4,271.6 405.9,271.2 410.4,270.9 415,270.6 419.7,270.3 424.3,270 428.8,269.7 433,269.4 436.9,269.1 440.5,268.7 443.9,268.4 447.4,268.1 451,267.9 454.9,267.8 459.1,267.8 463.2,267.9 467.1,267.9 470.6,267.9 473.5,267.9 475.8,267.8 478,267.7 480.2,267.5 482.7,267.1 485.5,266.4 488.3,265.4 491.3,264.3 494.5,263.3 497.7,262.6 501.1,262.2 504.7,262.1 508.4,262.1 512.1,262 515.8,261.8 519.4,261.4 523,260.8 526.6,260.2 530.2,259.6 533.9,259.3 537.9,259.2 542.2,259.2 546.5,259.3 550.3,259.5 553.4,259.6 555.3,259.7 556.3,259.9 557,260 558.1,260.1 560,259.9 563.1,259.5 566.8,258.9 571,258.3 575.4,257.6 579.6,256.9 583.8,256.3 588.3,255.6 592.7,254.9 596.9,254.3 600.7,253.9 604,253.7 607,253.6 609.7,253.7 612.1,253.8 614.2,253.9 615.7,254.1 616.7,254.4 617.5,254.7 618.5,254.9 620.2,254.9 622.4,254.6 624.9,254 627.7,253.4 631.2,252.8 635.3,252.4 640.6,252.3 647,252.5 653.7,252.7 660.1,252.8 665.4,252.8 669.3,252.6 672.2,252.3 674.6,251.8 677.2,251.4 680.5,250.9 684.5,250.3 689,249.7 693.7,249 698.5,248.4 703.1,247.9 707.4,247.5 711.4,247.2 715.6,247 720.2,246.9 725.7,246.8 732.6,246.8 740.7,246.8 749.2,246.9 757,247.1 763.3,247.4 767.8,247.8 771,248.3 773.4,248.9 775.7,249.5 778.4,250.1 781.5,250.7 784.8,251.3 788,251.9 790.9,252.4 793.4,252.8 795,252.9 795.9,252.9 796.6,252.7 797.8,252.6 800,252.6 803.6,252.7 808.2,252.9 813.3,253.1 818.3,253.3 822.6,253.4 826,253.4 828.8,253.4 831.5,253.3 834.3,253.1 837.7,252.8 841.7,252.4 846.2,251.8 850.8,251.2 855.6,250.6 860.2,250.1 864.7,249.8 869.2,249.6 873.8,249.4 878.3,249.3 882.8,249.1 887.3,248.9 891.8,248.8 896.4,248.7 900.9,248.5 905.4,248.2 909.8,247.8 914.1,247.4 918.4,246.8 923,246.2 928,245.6 933.8,244.8 940.2,243.8 946.8,242.8 952.9,242 958.1,241.5 962.1,241.5 965.2,241.9 967.9,242.4 970.4,242.8 973.2,243 976,242.8 978.7,242.3 981.4,241.7 984.5,241.2 988.3,240.8 993.1,240.7 998.9,240.8 1004.9,240.9 1010.6,241 1015.4,240.8 1019.1,240.2 1022.2,239.4 1024.8,238.5 1027.5,237.7 1030.4,237.3 1033.6,237.4 1037,237.8 1040.4,238.3 1043.9,238.7 1047.5,238.8 1051.3,238.4 1055.3,237.7 1059.4,236.8 1063.3,236.1 1067.1,235.8 1070.6,236 1074,236.6 1077.2,237.3 1080.4,237.8 1083.7,238.1 1087,237.9 1090.2,237.3 1093.5,236.6 1096.8,236 1100.2,235.8 1103.7,236.1 1107.3,236.6 1111,237.3 1114.7,238 1118.3,238.4 1122,238.5 1125.8,238.4 1129.6,238.3 1133.2,238.1 1136.4,238.1 1139.1,238.3 1141.4,238.5 1143.6,238.8 1145.8,239.1 1148.4,239.1 1151.4,238.9 1154.7,238.4 1158.1,237.9 1161.6,237.5 1165,237.3 1168.3,237.5 1171.6,238 1175,238.6 1178.3,239.1 1181.6,239.3 1184.9,239 1188.2,238.4 1191.5,237.6 1194.8,237 1198.1,236.9 1201.4,237.3 1204.8,238.2 1208.2,239.2 1211.5,240.2 1214.7,240.8 1217.8,241 1220.9,240.8 1223.9,240.6 1226.9,240.5 1229.8,240.8 1232.7,241.6 1235.6,242.7 1238.4,244 1241,245.1 1243.3,245.9 1245.1,246.3 1246.5,246.5 1247.7,246.5 1249.1,246.2 1250.8,245.6 1253.1,244.5 1255.8,242.8 1258.6,241 1261.2,239.5 1263.3,238.6 1264.8,238.5 1266,238.8 1266.9,239.5 1267.7,240.4 1268.5,241.3 1269.3,242.2 1270,243.2 1270.7,244.3 1271.5,245.7 1272.5,247.5 1273.7,249.7 1275,252.4 1276.5,255.3 1277.9,258.3 1279.4,261.2 1281,264.4 1282.8,267.9 1284.5,271.3 1286,274.2 1287,276.3" fill="none" stroke="#0000ff" stroke-width="4" stroke-linejoin="round" stroke-linecap="round"/>
<g stroke="#000" stroke-width="2.7" fill="none" stroke-linecap="square">
<line x1="163.4" y1="110.8" x2="163.4" y2="902.6"/>
<line x1="1459.2" y1="110.8" x2="1459.2" y2="902.6"/>
<line x1="163.4" y1="110.8" x2="1459.2" y2="110.8"/>
<line x1="163.4" y1="902.6" x2="1459.2" y2="902.6"/>
</g>
<path d="M163.3 902.6v10.5M163.3 110.8v-10.5M179.5 902.6v5.2M179.5 110.8v-5.2M195.7 902.6v5.2M195.7 110.8v-5.2M211.9 902.6v5.2M211.9 110.8v-5.2M228.1 902.6v5.2M228.1 110.8v-5.2M244.3 902.6v5.2M244.3 110.8v-5.2M260.5 902.6v5.2M260.5 110.8v-5.2M276.7 902.6v5.2M276.7 110.8v-5.2M292.9 902.6v5.2M292.9 110.8v-5.2M309.1 902.6v5.2M309.1 110.8v-5.2M325.3 902.6v10.5M325.3 110.8v-10.5M341.5 902.6v5.2M341.5 110.8v-5.2M357.7 902.6v5.2M357.7 110.8v-5.2M373.9 902.6v5.2M373.9 110.8v-5.2M390.1 902.6v5.2M390.1 110.8v-5.2M406.3 902.6v5.2M406.3 110.8v-5.2M422.5 902.6v5.2M422.5 110.8v-5.2M438.6 902.6v5.2M438.6 110.8v-5.2M454.8 902.6v5.2M454.8 110.8v-5.2M471.0 902.6v5.2M471.0 110.8v-5.2M487.2 902.6v10.5M487.2 110.8v-10.5M503.4 902.6v5.2M503.4 110.8v-5.2M519.6 902.6v5.2M519.6 110.8v-5.2M535.8 902.6v5.2M535.8 110.8v-5.2M552.0 902.6v5.2M552.0 110.8v-5.2M568.2 902.6v5.2M568.2 110.8v-5.2M584.4 902.6v5.2M584.4 110.8v-5.2M600.6 902.6v5.2M600.6 110.8v-5.2M616.8 902.6v5.2M616.8 110.8v-5.2M633.0 902.6v5.2M633.0 110.8v-5.2M649.2 902.6v10.5M649.2 110.8v-10.5M665.4 902.6v5.2M665.4 110.8v-5.2M681.6 902.6v5.2M681.6 110.8v-5.2M697.8 902.6v5.2M697.8 110.8v-5.2M714.0 902.6v5.2M714.0 110.8v-5.2M730.2 902.6v5.2M730.2 110.8v-5.2M746.4 902.6v5.2M746.4 110.8v-5.2M762.6 902.6v5.2M762.6 110.8v-5.2M778.8 902.6v5.2M778.8 110.8v-5.2M795.0 902.6v5.2M795.0 110.8v-5.2M811.2 902.6v10.5M811.2 110.8v-10.5M827.4 902.6v5.2M827.4 110.8v-5.2M843.6 902.6v5.2M843.6 110.8v-5.2M859.8 902.6v5.2M859.8 110.8v-5.2M876.0 902.6v5.2M876.0 110.8v-5.2M892.2 902.6v5.2M892.2 110.8v-5.2M908.4 902.6v5.2M908.4 110.8v-5.2M924.6 902.6v5.2M924.6 110.8v-5.2M940.8 902.6v5.2M940.8 110.8v-5.2M957.0 902.6v5.2M957.0 110.8v-5.2M973.1 902.6v10.5M973.1 110.8v-10.5M989.3 902.6v5.2M989.3 110.8v-5.2M1005.5 902.6v5.2M1005.5 110.8v-5.2M1021.7 902.6v5.2M1021.7 110.8v-5.2M1037.9 902.6v5.2M1037.9 110.8v-5.2M1054.1 902.6v5.2M1054.1 110.8v-5.2M1070.3 902.6v5.2M1070.3 110.8v-5.2M1086.5 902.6v5.2M1086.5 110.8v-5.2M1102.7 902.6v5.2M1102.7 110.8v-5.2M1118.9 902.6v5.2M1118.9 110.8v-5.2M1135.1 902.6v10.5M1135.1 110.8v-10.5M1151.3 902.6v5.2M1151.3 110.8v-5.2M1167.5 902.6v5.2M1167.5 110.8v-5.2M1183.7 902.6v5.2M1183.7 110.8v-5.2M1199.9 902.6v5.2M1199.9 110.8v-5.2M1216.1 902.6v5.2M1216.1 110.8v-5.2M1232.3 902.6v5.2M1232.3 110.8v-5.2M1248.5 902.6v5.2M1248.5 110.8v-5.2M1264.7 902.6v5.2M1264.7 110.8v-5.2M1280.9 902.6v5.2M1280.9 110.8v-5.2M1297.1 902.6v10.5M1297.1 110.8v-10.5M1313.3 902.6v5.2M1313.3 110.8v-5.2M1329.5 902.6v5.2M1329.5 110.8v-5.2M1345.7 902.6v5.2M1345.7 110.8v-5.2M1361.9 902.6v5.2M1361.9 110.8v-5.2M1378.1 902.6v5.2M1378.1 110.8v-5.2M1394.3 902.6v5.2M1394.3 110.8v-5.2M1410.5 902.6v5.2M1410.5 110.8v-5.2M1426.7 902.6v5.2M1426.7 110.8v-5.2M1442.9 902.6v5.2M1442.9 110.8v-5.2M1459.1 902.6v10.5M1459.1 110.8v-10.5M163.4 902.6h-10.5M163.4 863.0h-5.2M163.4 823.4h-10.5M163.4 783.8h-5.2M163.4 744.2h-10.5M163.4 704.6h-5.2M163.4 665.1h-10.5M163.4 625.5h-5.2M163.4 585.9h-10.5M163.4 546.3h-5.2M163.4 506.7h-10.5M163.4 467.1h-5.2M163.4 427.5h-10.5M163.4 387.9h-5.2M163.4 348.3h-10.5M163.4 308.8h-5.2M163.4 269.2h-10.5M163.4 229.6h-5.2M163.4 190.0h-10.5M163.4 150.4h-5.2M163.4 110.8h-10.5M1459.2 493.3h5.2M1459.2 480.1h5.2M1459.2 466.9h5.2M1459.2 453.7h5.2M1459.2 440.5h10.5M1459.2 427.3h5.2M1459.2 414.1h5.2M1459.2 400.9h5.2M1459.2 387.7h5.2M1459.2 374.5h10.5M1459.2 361.3h5.2M1459.2 348.1h5.2M1459.2 334.9h5.2M1459.2 321.7h5.2M1459.2 308.5h10.5M1459.2 295.3h5.2M1459.2 282.1h5.2M1459.2 268.9h5.2M1459.2 255.7h5.2M1459.2 242.5h10.5M1459.2 229.3h5.2M1459.2 216.1h5.2M1459.2 202.9h5.2M1459.2 189.7h5.2M1459.2 176.5h10.5M1459.2 163.3h5.2M1459.2 150.1h5.2M1459.2 136.9h5.2M1459.2 123.7h5.2M1459.2 110.5h10.5M1459.2 902.3h10.5M1459.2 889.1h5.2M1459.2 875.9h5.2M1459.2 862.8h5.2M1459.2 849.6h5.2M1459.2 836.4h10.5M1459.2 823.2h5.2M1459.2 810.0h5.2M1459.2 796.9h5.2M1459.2 783.7h5.2M1459.2 770.5h10.5M1459.2 757.3h5.2M1459.2 744.1h5.2M1459.2 731.0h5.2M1459.2 717.8h5.2M1459.2 704.6h10.5M1459.2 691.4h5.2M1459.2 678.2h5.2M1459.2 665.1h5.2M1459.2 651.9h5.2M1459.2 638.7h10.5M1459.2 625.5h5.2M1459.2 612.3h5.2M1459.2 599.2h5.2M1459.2 586.0h5.2M1459.2 572.8h10.5M1459.2 559.6h5.2M1459.2 546.4h5.2M1459.2 533.3h5.2M1459.2 520.1h5.2" stroke="#000" stroke-width="1.5" fill="none"/>
<line x1="325.3" y1="308.9" x2="1362.3" y2="308.9" stroke="#009494" stroke-opacity="0.61" stroke-width="1.9"/>
<line x1="1346" y1="110.6" x2="1346" y2="506.6" stroke="#009494" stroke-opacity="0.61" stroke-width="1.9"/>
<line x1="1329.6" y1="506.6" x2="1362.3" y2="506.6" stroke="#009494" stroke-opacity="0.61" stroke-width="1.9"/>
<line x1="1329.6" y1="110.6" x2="1362.3" y2="110.6" stroke="#009494" stroke-opacity="0.61" stroke-width="1.9"/>
<line x1="1346" y1="150.2" x2="1354" y2="150.2" stroke="#009494" stroke-opacity="0.61" stroke-width="1.9"/>
<line x1="1346" y1="189.8" x2="1354" y2="189.8" stroke="#009494" stroke-opacity="0.61" stroke-width="1.9"/>
<line x1="1346" y1="229.4" x2="1354" y2="229.4" stroke="#009494" stroke-opacity="0.61" stroke-width="1.9"/>
<line x1="1346" y1="269.0" x2="1354" y2="269.0" stroke="#009494" stroke-opacity="0.61" stroke-width="1.9"/>
<line x1="1346" y1="308.6" x2="1354" y2="308.6" stroke="#009494" stroke-opacity="0.61" stroke-width="1.9"/>
<line x1="1346" y1="348.2" x2="1354" y2="348.2" stroke="#009494" stroke-opacity="0.61" stroke-width="1.9"/>
<line x1="1346" y1="387.8" x2="1354" y2="387.8" stroke="#009494" stroke-opacity="0.61" stroke-width="1.9"/>
<line x1="1346" y1="427.4" x2="1354" y2="427.4" stroke="#009494" stroke-opacity="0.61" stroke-width="1.9"/>
<line x1="1346" y1="467.0" x2="1354" y2="467.0" stroke="#009494" stroke-opacity="0.61" stroke-width="1.9"/>
<g font-size="28" fill="#000">
<text transform="translate(142.6,912.7) scale(1,1.035)" text-anchor="end">-100</text>
<text transform="translate(142.6,833.5) scale(1,1.035)" text-anchor="end">-80</text>
<text transform="translate(142.6,754.3) scale(1,1.035)" text-anchor="end">-60</text>
<text transform="translate(142.6,675.2) scale(1,1.035)" text-anchor="end">-40</text>
<text transform="translate(142.6,596.0) scale(1,1.035)" text-anchor="end">-20</text>
<text transform="translate(142.6,516.8) scale(1,1.035)" text-anchor="end">0</text>
<text transform="translate(142.6,437.6) scale(1,1.035)" text-anchor="end">20</text>
<text transform="translate(142.6,358.4) scale(1,1.035)" text-anchor="end">40</text>
<text transform="translate(142.6,279.3) scale(1,1.035)" text-anchor="end">60</text>
<text transform="translate(142.6,200.1) scale(1,1.035)" text-anchor="end">80</text>
<text transform="translate(142.6,120.9) scale(1,1.035)" text-anchor="end">100</text>
<text transform="translate(163.3,944.2) scale(1,1.035)" text-anchor="middle">-10</text>
<text transform="translate(325.3,944.2) scale(1,1.035)" text-anchor="middle">0</text>
<text transform="translate(487.2,944.2) scale(1,1.035)" text-anchor="middle">10</text>
<text transform="translate(649.2,944.2) scale(1,1.035)" text-anchor="middle">20</text>
<text transform="translate(811.2,944.2) scale(1,1.035)" text-anchor="middle">30</text>
<text transform="translate(973.1,944.2) scale(1,1.035)" text-anchor="middle">40</text>
<text transform="translate(1135.1,944.2) scale(1,1.035)" text-anchor="middle">50</text>
<text transform="translate(1297.1,944.2) scale(1,1.035)" text-anchor="middle">60</text>
<text transform="translate(1459.1,944.2) scale(1,1.035)" text-anchor="middle">70</text>
<text transform="translate(1480.6,186.1) scale(1,1.035)" >1029.0</text>
<text transform="translate(1480.6,252.1) scale(1,1.035)" >1028.5</text>
<text transform="translate(1480.6,318.1) scale(1,1.035)" >1028.0</text>
<text transform="translate(1480.6,384.1) scale(1,1.035)" >1027.5</text>
<text transform="translate(1480.6,450.1) scale(1,1.035)" >1027.0</text>
<text transform="translate(1551,582.6) scale(1,1.035)" text-anchor="end">1000</text>
<text transform="translate(1551,648.5) scale(1,1.035)" text-anchor="end">500</text>
<text transform="translate(1551,714.4) scale(1,1.035)" text-anchor="end">0</text>
<text transform="translate(1551,780.3) scale(1,1.035)" text-anchor="end">-500</text>
<text transform="translate(1551,846.2) scale(1,1.035)" text-anchor="end">-1000</text>
<text transform="translate(1551,912.1) scale(1,1.035)" text-anchor="end">-1500</text>
</g>
<text transform="translate(559.8,81.8) scale(1,1.035)" font-size="32.2" font-weight="bold">SCG_054 gravimeter Onsala Space Observatory, Sweden</text>
<text transform="translate(1077.6,154.2) scale(1,1.035)" font-size="24" font-weight="bold">Stand-in barom. 20m</text>
<text transform="translate(359,1006.3) scale(1,1.035)" font-size="48">Time [min] from 2025-09-27 19:01:00 UTC</text>
<text transform="translate(59.3,732.9) rotate(-90) scale(1,1.035)" font-size="48">Obs’d Gravity [nm/s<tspan font-size="33.6" dy="-16.5">2</tspan><tspan dy="16.5">]</tspan></text>
<text transform="translate(1626.9,467.7) rotate(-90) scale(1,1.035)" font-size="48">Pressure [hPa]</text>
<text transform="translate(1612.9,831.7) rotate(-90) scale(1,1.035)" font-size="48">Tide [nm/s<tspan font-size="33.6" dy="-16.5">2</tspan><tspan dy="16.5">]</tspan></text>
<text transform="translate(244.2,604.7) rotate(-90) scale(1,1.035)" font-size="24.2">Typical noise level</text>
<text transform="translate(1386.9,393.6) rotate(-90) scale(1,1.035)" font-size="24">1 DIV = 1 hPa/h</text>
<text transform="translate(1427.1,402.8) rotate(-90) scale(1,1.035)" font-size="24">average = 0.2590</text>
<rect x="166.9" y="18.6" width="372.4" height="162.8" fill="#fff" stroke="#808080" stroke-width="1.3"/>
<line x1="204" y1="39.2" x2="260.2" y2="39.2" stroke="#0000ff" stroke-width="1"/>
<circle cx="232.3" cy="39.2" r="4.4" fill="#0000ff"/>
<line x1="204" y1="69.4" x2="260.2" y2="69.4" stroke="#00c8c8" stroke-width="1"/>
<circle cx="232.3" cy="69.4" r="4.4" fill="#00c8c8"/>
<line x1="204" y1="99.9" x2="260.2" y2="99.9" stroke="#000" stroke-width="3"/>
<line x1="204" y1="130.3" x2="260.2" y2="130.3" stroke="#bebebe" stroke-width="3"/>
<line x1="204" y1="160.7" x2="260.2" y2="160.7" stroke="#ff0000" stroke-width="1"/>
<circle cx="232.3" cy="160.7" r="4.4" fill="#ff0000"/>
<text transform="translate(278.7,47.6) scale(1,1.035)" font-size="24">Pressure</text>
<text transform="translate(278.7,77.8) scale(1,1.035)" font-size="24">dP/dt</text>
<text transform="translate(278.7,108.3) scale(1,1.035)" font-size="24">Residual</text>
<text transform="translate(278.7,138.7) scale(1,1.035)" font-size="24">... last 10 min.</text>
<text transform="translate(278.7,169.1) scale(1,1.035)" font-size="24">Theor.Tide</text>
</svg></body></html>
